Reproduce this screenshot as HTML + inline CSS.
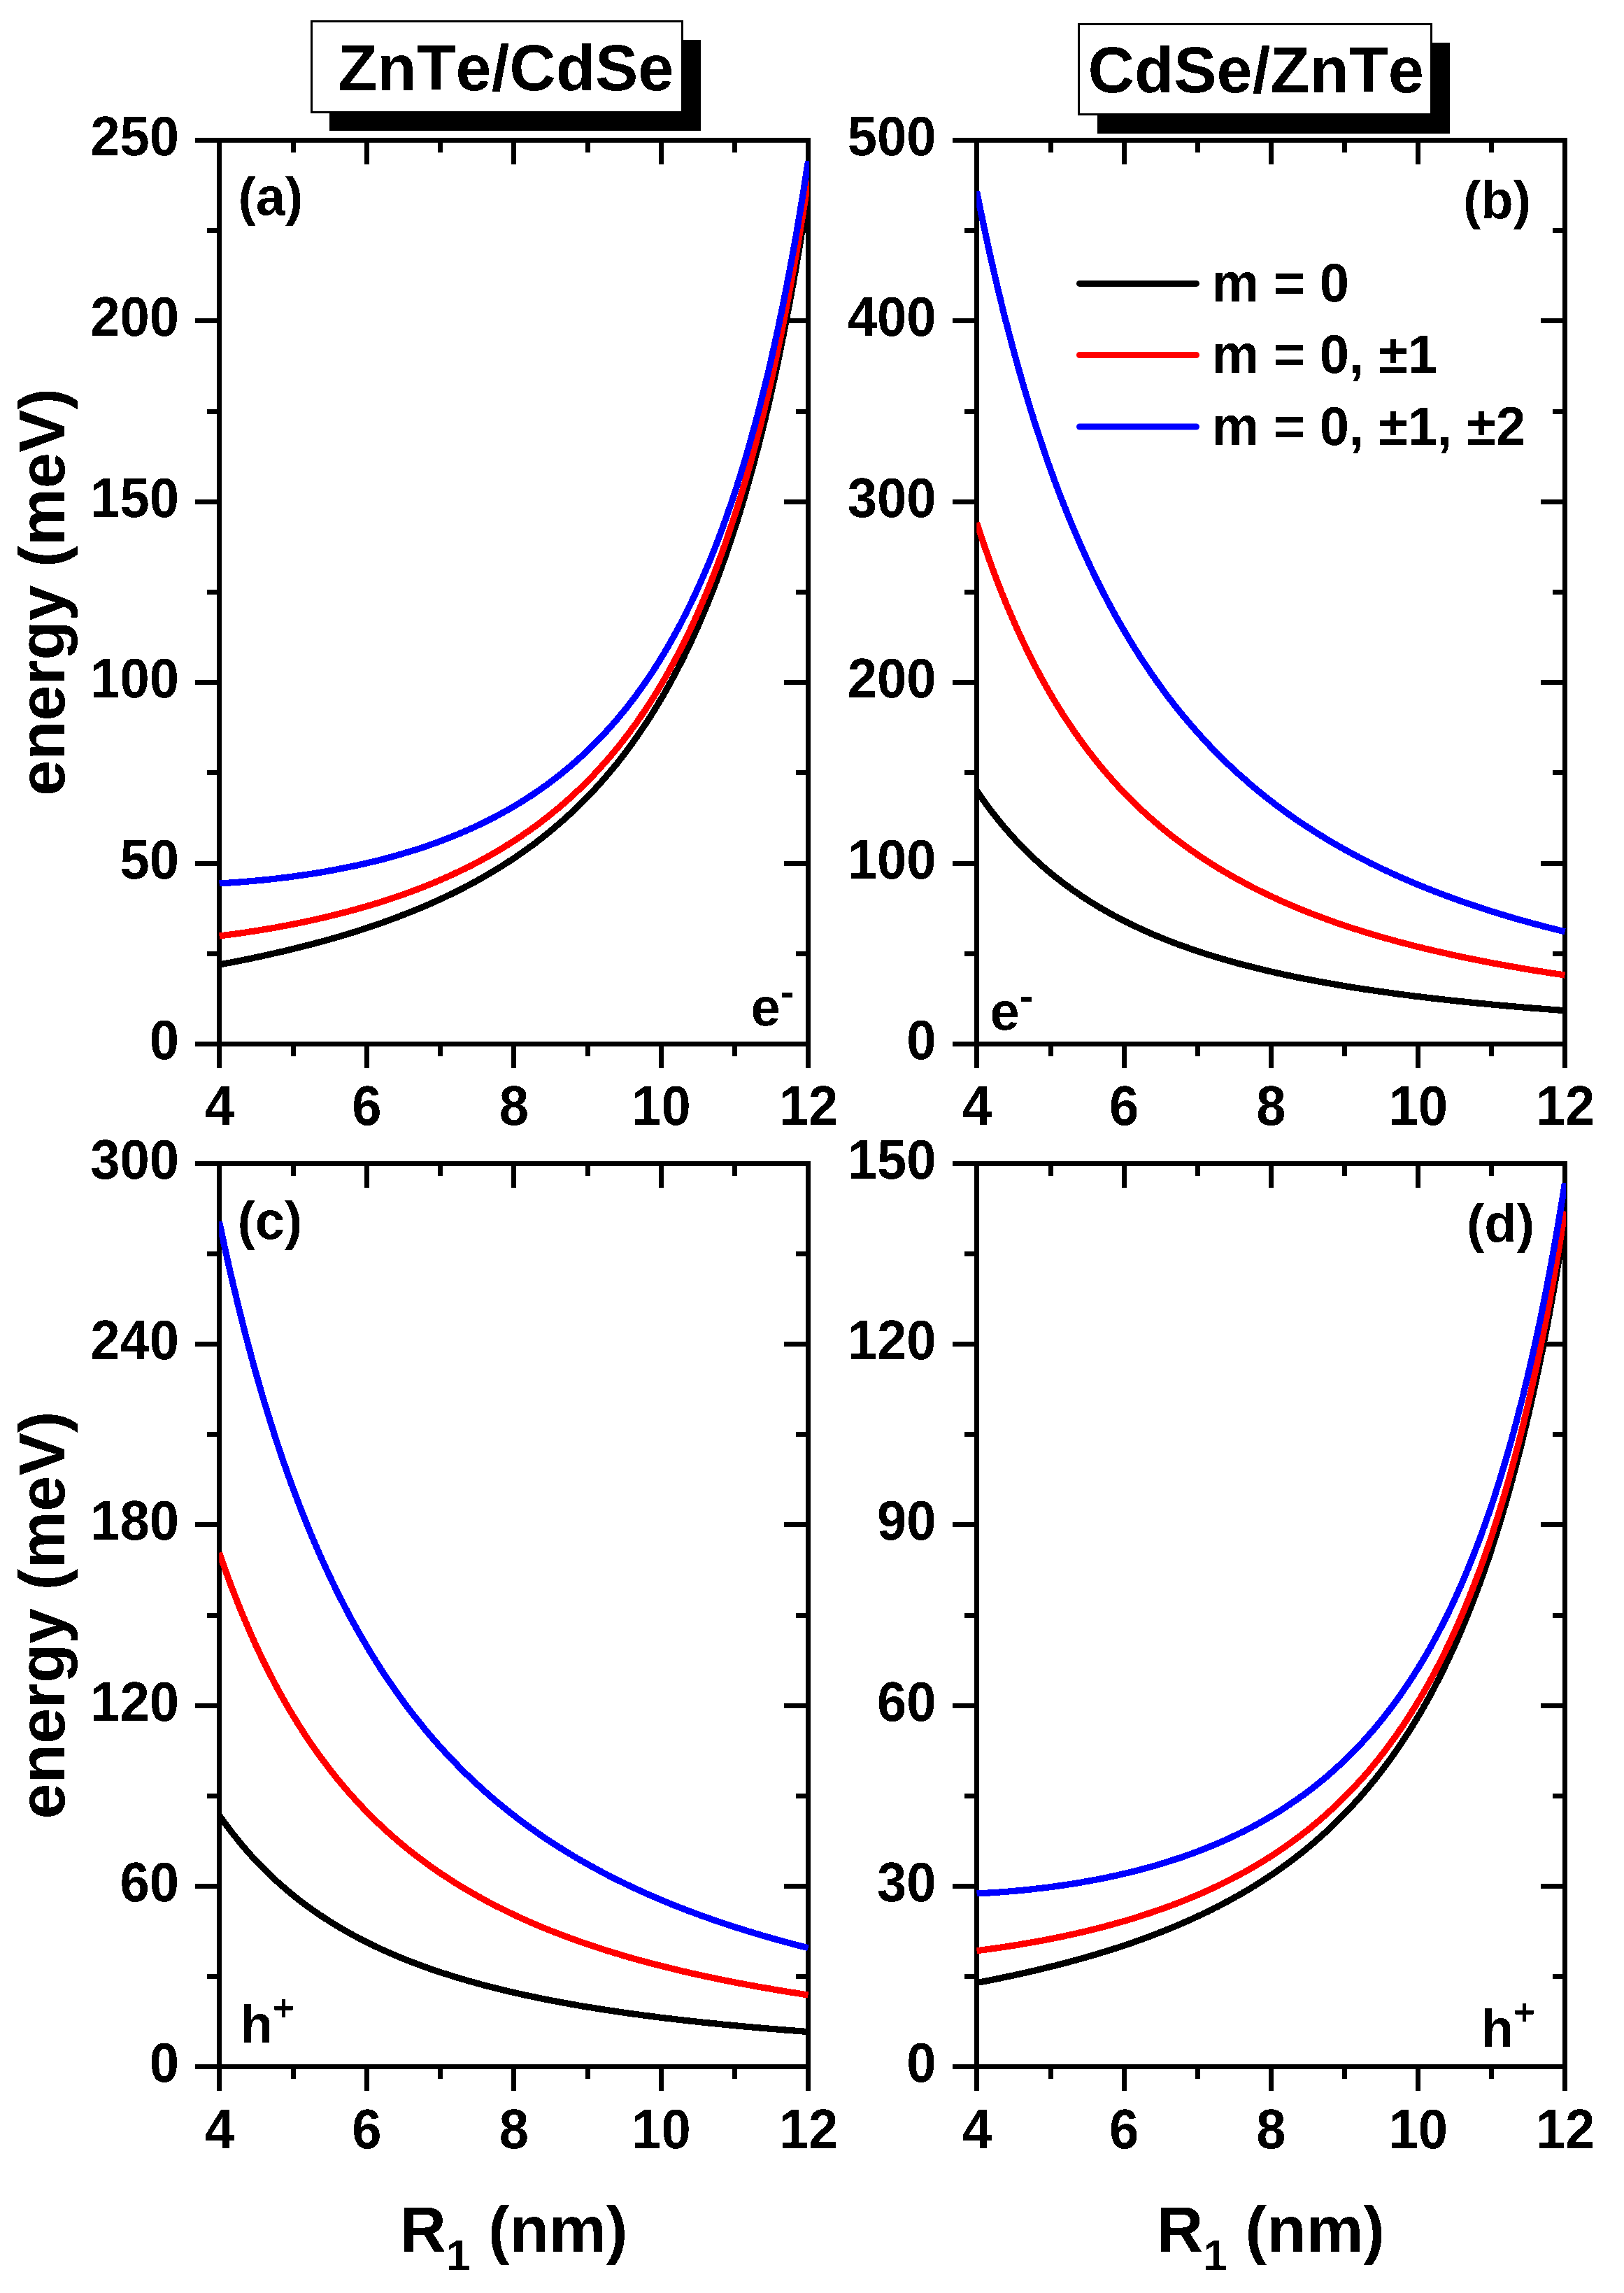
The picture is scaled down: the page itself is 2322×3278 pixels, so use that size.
<!DOCTYPE html>
<html lang="en"><head><meta charset="utf-8"><title>Energy vs R1 for ZnTe/CdSe and CdSe/ZnTe</title>
<style>html,body{margin:0;padding:0;background:#fff}svg{display:block}text{font-family:"Liberation Sans",Arial,Helvetica,sans-serif;font-weight:bold;fill:#000;font-kerning:none;font-variant-ligatures:none;filter:url(#bin)}</style>
</head><body>
<svg width="2322" height="3278" viewBox="0 0 2322 3278">
<rect x="0" y="0" width="2322" height="3278" fill="#fff" />
<defs><filter id="bin" x="-5%" y="-5%" width="110%" height="110%" color-interpolation-filters="sRGB"><feComponentTransfer><feFuncA type="discrete" tableValues="0 1"/></feComponentTransfer></filter></defs>
<g shape-rendering="crispEdges">
<rect x="471" y="57" width="531" height="130" fill="#000" />
<rect x="445.5" y="30.5" width="530" height="130" fill="#fff" stroke="#000" stroke-width="3"/>
</g>
<text x="483" y="129" font-size="92" text-anchor="start" >ZnTe/CdSe</text>
<g shape-rendering="crispEdges">
<rect x="1569" y="61" width="504" height="130" fill="#000" />
<rect x="1542.5" y="34.5" width="504" height="129" fill="#fff" stroke="#000" stroke-width="3"/>
</g>
<text x="1555.5" y="132" font-size="92" text-anchor="start" >CdSe/ZnTe</text>
<g shape-rendering="crispEdges">
<rect x="310" y="197" width="849" height="7" fill="#000" />
<rect x="310" y="1489" width="849" height="7" fill="#000" />
<rect x="310" y="197" width="7" height="1299" fill="#000" />
<rect x="1152" y="197" width="7" height="1299" fill="#000" />
<rect x="310" y="1496" width="7" height="31" fill="#000" />
<rect x="310" y="204" width="7" height="31" fill="#000" />
<rect x="416" y="1496" width="7" height="14" fill="#000" />
<rect x="416" y="204" width="7" height="14" fill="#000" />
<rect x="521" y="1496" width="7" height="31" fill="#000" />
<rect x="521" y="204" width="7" height="31" fill="#000" />
<rect x="626" y="1496" width="7" height="14" fill="#000" />
<rect x="626" y="204" width="7" height="14" fill="#000" />
<rect x="731" y="1496" width="7" height="31" fill="#000" />
<rect x="731" y="204" width="7" height="31" fill="#000" />
<rect x="837" y="1496" width="7" height="14" fill="#000" />
<rect x="837" y="204" width="7" height="14" fill="#000" />
<rect x="942" y="1496" width="7" height="31" fill="#000" />
<rect x="942" y="204" width="7" height="31" fill="#000" />
<rect x="1047" y="1496" width="7" height="14" fill="#000" />
<rect x="1047" y="204" width="7" height="14" fill="#000" />
<rect x="1152" y="1496" width="7" height="31" fill="#000" />
<rect x="1152" y="204" width="7" height="31" fill="#000" />
<rect x="279" y="1489" width="31" height="7" fill="#000" />
<rect x="1121" y="1489" width="31" height="7" fill="#000" />
<rect x="296" y="1360" width="14" height="7" fill="#000" />
<rect x="1138" y="1360" width="14" height="7" fill="#000" />
<rect x="279" y="1231" width="31" height="7" fill="#000" />
<rect x="1121" y="1231" width="31" height="7" fill="#000" />
<rect x="296" y="1101" width="14" height="7" fill="#000" />
<rect x="1138" y="1101" width="14" height="7" fill="#000" />
<rect x="279" y="972" width="31" height="7" fill="#000" />
<rect x="1121" y="972" width="31" height="7" fill="#000" />
<rect x="296" y="843" width="14" height="7" fill="#000" />
<rect x="1138" y="843" width="14" height="7" fill="#000" />
<rect x="279" y="714" width="31" height="7" fill="#000" />
<rect x="1121" y="714" width="31" height="7" fill="#000" />
<rect x="296" y="585" width="14" height="7" fill="#000" />
<rect x="1138" y="585" width="14" height="7" fill="#000" />
<rect x="279" y="455" width="31" height="7" fill="#000" />
<rect x="1121" y="455" width="31" height="7" fill="#000" />
<rect x="296" y="326" width="14" height="7" fill="#000" />
<rect x="1138" y="326" width="14" height="7" fill="#000" />
<rect x="279" y="197" width="31" height="7" fill="#000" />
<rect x="1121" y="197" width="31" height="7" fill="#000" />
</g>
<g shape-rendering="crispEdges">
<rect x="1393" y="197" width="848" height="7" fill="#000" />
<rect x="1393" y="1489" width="848" height="7" fill="#000" />
<rect x="1393" y="197" width="7" height="1299" fill="#000" />
<rect x="2234" y="197" width="7" height="1299" fill="#000" />
<rect x="1393" y="1496" width="7" height="31" fill="#000" />
<rect x="1393" y="204" width="7" height="31" fill="#000" />
<rect x="1499" y="1496" width="7" height="14" fill="#000" />
<rect x="1499" y="204" width="7" height="14" fill="#000" />
<rect x="1604" y="1496" width="7" height="31" fill="#000" />
<rect x="1604" y="204" width="7" height="31" fill="#000" />
<rect x="1709" y="1496" width="7" height="14" fill="#000" />
<rect x="1709" y="204" width="7" height="14" fill="#000" />
<rect x="1814" y="1496" width="7" height="31" fill="#000" />
<rect x="1814" y="204" width="7" height="31" fill="#000" />
<rect x="1919" y="1496" width="7" height="14" fill="#000" />
<rect x="1919" y="204" width="7" height="14" fill="#000" />
<rect x="2024" y="1496" width="7" height="31" fill="#000" />
<rect x="2024" y="204" width="7" height="31" fill="#000" />
<rect x="2129" y="1496" width="7" height="14" fill="#000" />
<rect x="2129" y="204" width="7" height="14" fill="#000" />
<rect x="2234" y="1496" width="7" height="31" fill="#000" />
<rect x="2234" y="204" width="7" height="31" fill="#000" />
<rect x="1362" y="1489" width="31" height="7" fill="#000" />
<rect x="2203" y="1489" width="31" height="7" fill="#000" />
<rect x="1379" y="1360" width="14" height="7" fill="#000" />
<rect x="2220" y="1360" width="14" height="7" fill="#000" />
<rect x="1362" y="1231" width="31" height="7" fill="#000" />
<rect x="2203" y="1231" width="31" height="7" fill="#000" />
<rect x="1379" y="1101" width="14" height="7" fill="#000" />
<rect x="2220" y="1101" width="14" height="7" fill="#000" />
<rect x="1362" y="972" width="31" height="7" fill="#000" />
<rect x="2203" y="972" width="31" height="7" fill="#000" />
<rect x="1379" y="843" width="14" height="7" fill="#000" />
<rect x="2220" y="843" width="14" height="7" fill="#000" />
<rect x="1362" y="714" width="31" height="7" fill="#000" />
<rect x="2203" y="714" width="31" height="7" fill="#000" />
<rect x="1379" y="585" width="14" height="7" fill="#000" />
<rect x="2220" y="585" width="14" height="7" fill="#000" />
<rect x="1362" y="455" width="31" height="7" fill="#000" />
<rect x="2203" y="455" width="31" height="7" fill="#000" />
<rect x="1379" y="326" width="14" height="7" fill="#000" />
<rect x="2220" y="326" width="14" height="7" fill="#000" />
<rect x="1362" y="197" width="31" height="7" fill="#000" />
<rect x="2203" y="197" width="31" height="7" fill="#000" />
</g>
<g shape-rendering="crispEdges">
<rect x="310" y="1660" width="849" height="7" fill="#000" />
<rect x="310" y="2951" width="849" height="7" fill="#000" />
<rect x="310" y="1660" width="7" height="1298" fill="#000" />
<rect x="1152" y="1660" width="7" height="1298" fill="#000" />
<rect x="310" y="2958" width="7" height="31" fill="#000" />
<rect x="310" y="1667" width="7" height="31" fill="#000" />
<rect x="416" y="2958" width="7" height="14" fill="#000" />
<rect x="416" y="1667" width="7" height="14" fill="#000" />
<rect x="521" y="2958" width="7" height="31" fill="#000" />
<rect x="521" y="1667" width="7" height="31" fill="#000" />
<rect x="626" y="2958" width="7" height="14" fill="#000" />
<rect x="626" y="1667" width="7" height="14" fill="#000" />
<rect x="731" y="2958" width="7" height="31" fill="#000" />
<rect x="731" y="1667" width="7" height="31" fill="#000" />
<rect x="837" y="2958" width="7" height="14" fill="#000" />
<rect x="837" y="1667" width="7" height="14" fill="#000" />
<rect x="942" y="2958" width="7" height="31" fill="#000" />
<rect x="942" y="1667" width="7" height="31" fill="#000" />
<rect x="1047" y="2958" width="7" height="14" fill="#000" />
<rect x="1047" y="1667" width="7" height="14" fill="#000" />
<rect x="1152" y="2958" width="7" height="31" fill="#000" />
<rect x="1152" y="1667" width="7" height="31" fill="#000" />
<rect x="279" y="2951" width="31" height="7" fill="#000" />
<rect x="1121" y="2951" width="31" height="7" fill="#000" />
<rect x="296" y="2822" width="14" height="7" fill="#000" />
<rect x="1138" y="2822" width="14" height="7" fill="#000" />
<rect x="279" y="2693" width="31" height="7" fill="#000" />
<rect x="1121" y="2693" width="31" height="7" fill="#000" />
<rect x="296" y="2564" width="14" height="7" fill="#000" />
<rect x="1138" y="2564" width="14" height="7" fill="#000" />
<rect x="279" y="2435" width="31" height="7" fill="#000" />
<rect x="1121" y="2435" width="31" height="7" fill="#000" />
<rect x="296" y="2306" width="14" height="7" fill="#000" />
<rect x="1138" y="2306" width="14" height="7" fill="#000" />
<rect x="279" y="2176" width="31" height="7" fill="#000" />
<rect x="1121" y="2176" width="31" height="7" fill="#000" />
<rect x="296" y="2047" width="14" height="7" fill="#000" />
<rect x="1138" y="2047" width="14" height="7" fill="#000" />
<rect x="279" y="1918" width="31" height="7" fill="#000" />
<rect x="1121" y="1918" width="31" height="7" fill="#000" />
<rect x="296" y="1789" width="14" height="7" fill="#000" />
<rect x="1138" y="1789" width="14" height="7" fill="#000" />
<rect x="279" y="1660" width="31" height="7" fill="#000" />
<rect x="1121" y="1660" width="31" height="7" fill="#000" />
</g>
<g shape-rendering="crispEdges">
<rect x="1393" y="1660" width="848" height="7" fill="#000" />
<rect x="1393" y="2951" width="848" height="7" fill="#000" />
<rect x="1393" y="1660" width="7" height="1298" fill="#000" />
<rect x="2234" y="1660" width="7" height="1298" fill="#000" />
<rect x="1393" y="2958" width="7" height="31" fill="#000" />
<rect x="1393" y="1667" width="7" height="31" fill="#000" />
<rect x="1499" y="2958" width="7" height="14" fill="#000" />
<rect x="1499" y="1667" width="7" height="14" fill="#000" />
<rect x="1604" y="2958" width="7" height="31" fill="#000" />
<rect x="1604" y="1667" width="7" height="31" fill="#000" />
<rect x="1709" y="2958" width="7" height="14" fill="#000" />
<rect x="1709" y="1667" width="7" height="14" fill="#000" />
<rect x="1814" y="2958" width="7" height="31" fill="#000" />
<rect x="1814" y="1667" width="7" height="31" fill="#000" />
<rect x="1919" y="2958" width="7" height="14" fill="#000" />
<rect x="1919" y="1667" width="7" height="14" fill="#000" />
<rect x="2024" y="2958" width="7" height="31" fill="#000" />
<rect x="2024" y="1667" width="7" height="31" fill="#000" />
<rect x="2129" y="2958" width="7" height="14" fill="#000" />
<rect x="2129" y="1667" width="7" height="14" fill="#000" />
<rect x="2234" y="2958" width="7" height="31" fill="#000" />
<rect x="2234" y="1667" width="7" height="31" fill="#000" />
<rect x="1362" y="2951" width="31" height="7" fill="#000" />
<rect x="2203" y="2951" width="31" height="7" fill="#000" />
<rect x="1379" y="2822" width="14" height="7" fill="#000" />
<rect x="2220" y="2822" width="14" height="7" fill="#000" />
<rect x="1362" y="2693" width="31" height="7" fill="#000" />
<rect x="2203" y="2693" width="31" height="7" fill="#000" />
<rect x="1379" y="2564" width="14" height="7" fill="#000" />
<rect x="2220" y="2564" width="14" height="7" fill="#000" />
<rect x="1362" y="2435" width="31" height="7" fill="#000" />
<rect x="2203" y="2435" width="31" height="7" fill="#000" />
<rect x="1379" y="2306" width="14" height="7" fill="#000" />
<rect x="2220" y="2306" width="14" height="7" fill="#000" />
<rect x="1362" y="2176" width="31" height="7" fill="#000" />
<rect x="2203" y="2176" width="31" height="7" fill="#000" />
<rect x="1379" y="2047" width="14" height="7" fill="#000" />
<rect x="2220" y="2047" width="14" height="7" fill="#000" />
<rect x="1362" y="1918" width="31" height="7" fill="#000" />
<rect x="2203" y="1918" width="31" height="7" fill="#000" />
<rect x="1379" y="1789" width="14" height="7" fill="#000" />
<rect x="2220" y="1789" width="14" height="7" fill="#000" />
<rect x="1362" y="1660" width="31" height="7" fill="#000" />
<rect x="2203" y="1660" width="31" height="7" fill="#000" />
</g>
<text transform="translate(314,1608) scale(1,1.04)" font-size="76" text-anchor="middle">4</text>
<text transform="translate(524.5,1608) scale(1,1.04)" font-size="76" text-anchor="middle">6</text>
<text transform="translate(735,1608) scale(1,1.04)" font-size="76" text-anchor="middle">8</text>
<text transform="translate(945.5,1608) scale(1,1.04)" font-size="76" text-anchor="middle">10</text>
<text transform="translate(1156,1608) scale(1,1.04)" font-size="76" text-anchor="middle">12</text>
<text transform="translate(256,1514) scale(1,1.04)" font-size="76" text-anchor="end">0</text>
<text transform="translate(256,1255.6) scale(1,1.04)" font-size="76" text-anchor="end">50</text>
<text transform="translate(256,997.2) scale(1,1.04)" font-size="76" text-anchor="end">100</text>
<text transform="translate(256,738.8) scale(1,1.04)" font-size="76" text-anchor="end">150</text>
<text transform="translate(256,480.4) scale(1,1.04)" font-size="76" text-anchor="end">200</text>
<text transform="translate(256,222) scale(1,1.04)" font-size="76" text-anchor="end">250</text>
<text transform="translate(1397,1608) scale(1,1.04)" font-size="76" text-anchor="middle">4</text>
<text transform="translate(1607.25,1608) scale(1,1.04)" font-size="76" text-anchor="middle">6</text>
<text transform="translate(1817.5,1608) scale(1,1.04)" font-size="76" text-anchor="middle">8</text>
<text transform="translate(2027.75,1608) scale(1,1.04)" font-size="76" text-anchor="middle">10</text>
<text transform="translate(2238,1608) scale(1,1.04)" font-size="76" text-anchor="middle">12</text>
<text transform="translate(1338.5,1514) scale(1,1.04)" font-size="76" text-anchor="end">0</text>
<text transform="translate(1338.5,1255.6) scale(1,1.04)" font-size="76" text-anchor="end">100</text>
<text transform="translate(1338.5,997.2) scale(1,1.04)" font-size="76" text-anchor="end">200</text>
<text transform="translate(1338.5,738.8) scale(1,1.04)" font-size="76" text-anchor="end">300</text>
<text transform="translate(1338.5,480.4) scale(1,1.04)" font-size="76" text-anchor="end">400</text>
<text transform="translate(1338.5,222) scale(1,1.04)" font-size="76" text-anchor="end">500</text>
<text transform="translate(314,3071) scale(1,1.04)" font-size="76" text-anchor="middle">4</text>
<text transform="translate(524.5,3071) scale(1,1.04)" font-size="76" text-anchor="middle">6</text>
<text transform="translate(735,3071) scale(1,1.04)" font-size="76" text-anchor="middle">8</text>
<text transform="translate(945.5,3071) scale(1,1.04)" font-size="76" text-anchor="middle">10</text>
<text transform="translate(1156,3071) scale(1,1.04)" font-size="76" text-anchor="middle">12</text>
<text transform="translate(256,2976) scale(1,1.04)" font-size="76" text-anchor="end">0</text>
<text transform="translate(256,2717.8) scale(1,1.04)" font-size="76" text-anchor="end">60</text>
<text transform="translate(256,2459.6) scale(1,1.04)" font-size="76" text-anchor="end">120</text>
<text transform="translate(256,2201.4) scale(1,1.04)" font-size="76" text-anchor="end">180</text>
<text transform="translate(256,1943.2) scale(1,1.04)" font-size="76" text-anchor="end">240</text>
<text transform="translate(256,1685) scale(1,1.04)" font-size="76" text-anchor="end">300</text>
<text transform="translate(1397,3071) scale(1,1.04)" font-size="76" text-anchor="middle">4</text>
<text transform="translate(1607.25,3071) scale(1,1.04)" font-size="76" text-anchor="middle">6</text>
<text transform="translate(1817.5,3071) scale(1,1.04)" font-size="76" text-anchor="middle">8</text>
<text transform="translate(2027.75,3071) scale(1,1.04)" font-size="76" text-anchor="middle">10</text>
<text transform="translate(2238,3071) scale(1,1.04)" font-size="76" text-anchor="middle">12</text>
<text transform="translate(1338.5,2976) scale(1,1.04)" font-size="76" text-anchor="end">0</text>
<text transform="translate(1338.5,2717.8) scale(1,1.04)" font-size="76" text-anchor="end">30</text>
<text transform="translate(1338.5,2459.6) scale(1,1.04)" font-size="76" text-anchor="end">60</text>
<text transform="translate(1338.5,2201.4) scale(1,1.04)" font-size="76" text-anchor="end">90</text>
<text transform="translate(1338.5,1943.2) scale(1,1.04)" font-size="76" text-anchor="end">120</text>
<text transform="translate(1338.5,1685) scale(1,1.04)" font-size="76" text-anchor="end">150</text>
<text transform="translate(92,846.5) rotate(-90)" font-size="92" text-anchor="middle">energy (meV)</text>
<text transform="translate(92,2309) rotate(-90)" font-size="92" text-anchor="middle">energy (meV)</text>
<text x="734.5" y="3219" font-size="92" text-anchor="middle">R<tspan font-size="62" dy="26">1</tspan><tspan dy="-26"> (nm)</tspan></text>
<text x="1817" y="3219" font-size="92" text-anchor="middle">R<tspan font-size="62" dy="26">1</tspan><tspan dy="-26"> (nm)</tspan></text>
<text x="340.5" y="307" font-size="76" text-anchor="start" >(a)</text>
<text x="2189" y="311.5" font-size="76" text-anchor="end" >(b)</text>
<text x="339.5" y="1770.5" font-size="76" text-anchor="start" >(c)</text>
<text x="2194" y="1775" font-size="76" text-anchor="end" >(d)</text>
<text x="1073.5" y="1466" font-size="76">e<tspan font-size="60" dy="-28">-</tspan></text>
<text x="1415.5" y="1472" font-size="76">e<tspan font-size="60" dy="-28">-</tspan></text>
<text x="343.8" y="2920" font-size="76">h<tspan font-size="52" dy="-32">+</tspan></text>
<text x="2117.8" y="2926" font-size="76">h<tspan font-size="52" dy="-32">+</tspan></text>
<g stroke-width="9" stroke-linecap="round" fill="none">
<line x1="1543.5" y1="405.4" x2="1710.5" y2="405.4" stroke="#000000"/>
<line x1="1543.5" y1="507.5" x2="1710.5" y2="507.5" stroke="#ff0000"/>
<line x1="1543.5" y1="610" x2="1710.5" y2="610" stroke="#0000ff"/>
</g>
<text transform="translate(1732.5,431) scale(1,1.03)" font-size="76">m = 0</text>
<text transform="translate(1732.5,533.4) scale(1,1.03)" font-size="76">m = 0, ±1</text>
<text transform="translate(1732.5,635.8) scale(1,1.03)" font-size="76">m = 0, ±1, ±2</text>
<clipPath id="clipa"><rect x="313.3" y="190.5" width="843.7" height="1312"/></clipPath>
<g clip-path="url(#clipa)" fill="none" stroke-width="9.2" stroke-linejoin="round" stroke-linecap="butt" shape-rendering="crispEdges">
<path d="M313.5,1379.1 L317.0,1378.4 L320.5,1377.8 L324.0,1377.1 L327.5,1376.4 L331.0,1375.8 L334.6,1375.1 L338.1,1374.4 L341.6,1373.7 L345.1,1373.0 L348.6,1372.3 L352.1,1371.6 L355.6,1370.8 L359.1,1370.1 L362.6,1369.4 L366.1,1368.6 L369.6,1367.9 L373.1,1367.1 L376.6,1366.4 L380.2,1365.6 L383.7,1364.8 L387.2,1364.0 L390.7,1363.2 L394.2,1362.4 L397.7,1361.6 L401.2,1360.8 L404.7,1360.0 L408.2,1359.2 L411.7,1358.3 L415.2,1357.5 L418.8,1356.6 L422.3,1355.8 L425.8,1354.9 L429.3,1354.0 L432.8,1353.1 L436.3,1352.2 L439.8,1351.3 L443.3,1350.4 L446.8,1349.5 L450.3,1348.6 L453.8,1347.6 L457.3,1346.7 L460.9,1345.7 L464.4,1344.8 L467.9,1343.8 L471.4,1342.8 L474.9,1341.8 L478.4,1340.8 L481.9,1339.8 L485.4,1338.8 L488.9,1337.7 L492.4,1336.7 L495.9,1335.6 L499.4,1334.5 L502.9,1333.5 L506.5,1332.4 L510.0,1331.3 L513.5,1330.1 L517.0,1329.0 L520.5,1327.9 L524.0,1326.7 L527.5,1325.6 L531.0,1324.4 L534.5,1323.2 L538.0,1322.0 L541.5,1320.8 L545.0,1319.6 L548.6,1318.3 L552.1,1317.1 L555.6,1315.8 L559.1,1314.5 L562.6,1313.2 L566.1,1311.9 L569.6,1310.6 L573.1,1309.2 L576.6,1307.9 L580.1,1306.5 L583.6,1305.1 L587.1,1303.7 L590.7,1302.3 L594.2,1300.9 L597.7,1299.4 L601.2,1298.0 L604.7,1296.5 L608.2,1295.0 L611.7,1293.5 L615.2,1292.0 L618.7,1290.4 L622.2,1288.8 L625.7,1287.2 L629.2,1285.6 L632.8,1284.0 L636.3,1282.4 L639.8,1280.7 L643.3,1279.0 L646.8,1277.3 L650.3,1275.6 L653.8,1273.9 L657.3,1272.1 L660.8,1270.3 L664.3,1268.5 L667.8,1266.7 L671.4,1264.8 L674.9,1262.9 L678.4,1261.0 L681.9,1259.1 L685.4,1257.1 L688.9,1255.2 L692.4,1253.2 L695.9,1251.1 L699.4,1249.1 L702.9,1247.0 L706.4,1244.9 L709.9,1242.8 L713.5,1240.6 L717.0,1238.4 L720.5,1236.2 L724.0,1234.0 L727.5,1231.7 L731.0,1229.4 L734.5,1227.1 L738.0,1224.7 L741.5,1222.3 L745.0,1219.9 L748.5,1217.4 L752.0,1214.9 L755.5,1212.4 L759.1,1209.8 L762.6,1207.2 L766.1,1204.6 L769.6,1201.9 L773.1,1199.2 L776.6,1196.4 L780.1,1193.6 L783.6,1190.8 L787.1,1187.9 L790.6,1185.0 L794.1,1182.0 L797.6,1179.0 L801.2,1176.0 L804.7,1172.9 L808.2,1169.8 L811.7,1166.6 L815.2,1163.4 L818.7,1160.1 L822.2,1156.8 L825.7,1153.4 L829.2,1150.0 L832.7,1146.5 L836.2,1143.0 L839.8,1139.4 L843.3,1135.7 L846.8,1132.0 L850.3,1128.3 L853.8,1124.5 L857.3,1120.6 L860.8,1116.7 L864.3,1112.7 L867.8,1108.6 L871.3,1104.5 L874.8,1100.3 L878.3,1096.0 L881.9,1091.7 L885.4,1087.3 L888.9,1082.8 L892.4,1078.2 L895.9,1073.6 L899.4,1068.9 L902.9,1064.1 L906.4,1059.2 L909.9,1054.2 L913.4,1049.2 L916.9,1044.1 L920.4,1038.8 L924.0,1033.5 L927.5,1028.1 L931.0,1022.6 L934.5,1017.0 L938.0,1011.3 L941.5,1005.5 L945.0,999.6 L948.5,993.6 L952.0,987.4 L955.5,981.2 L959.0,974.8 L962.5,968.3 L966.0,961.7 L969.6,955.0 L973.1,948.1 L976.6,941.1 L980.1,934.0 L983.6,926.7 L987.1,919.3 L990.6,911.7 L994.1,904.0 L997.6,896.2 L1001.1,888.1 L1004.6,879.9 L1008.1,871.6 L1011.7,863.0 L1015.2,854.3 L1018.7,845.4 L1022.2,836.4 L1025.7,827.1 L1029.2,817.6 L1032.7,807.9 L1036.2,798.0 L1039.7,787.9 L1043.2,777.6 L1046.7,767.1 L1050.2,756.3 L1053.8,745.2 L1057.3,734.0 L1060.8,722.4 L1064.3,710.6 L1067.8,698.5 L1071.3,686.2 L1074.8,673.5 L1078.3,660.5 L1081.8,647.3 L1085.3,633.7 L1088.8,619.8 L1092.3,605.5 L1095.9,590.9 L1099.4,575.9 L1102.9,560.5 L1106.4,544.8 L1109.9,528.6 L1113.4,512.1 L1116.9,495.1 L1120.4,477.6 L1123.9,459.7 L1127.4,441.3 L1130.9,422.4 L1134.5,403.0 L1138.0,383.1 L1141.5,362.6 L1145.0,341.6 L1148.5,319.9 L1152.0,297.6 L1155.5,274.7" stroke="#000000"/>
<path d="M313.5,1338.0 L317.0,1337.6 L320.5,1337.1 L324.0,1336.7 L327.5,1336.2 L331.0,1335.8 L334.6,1335.3 L338.1,1334.8 L341.6,1334.3 L345.1,1333.8 L348.6,1333.3 L352.1,1332.8 L355.6,1332.2 L359.1,1331.7 L362.6,1331.2 L366.1,1330.6 L369.6,1330.0 L373.1,1329.5 L376.6,1328.9 L380.2,1328.3 L383.7,1327.7 L387.2,1327.1 L390.7,1326.5 L394.2,1325.9 L397.7,1325.2 L401.2,1324.6 L404.7,1323.9 L408.2,1323.3 L411.7,1322.6 L415.2,1321.9 L418.8,1321.2 L422.3,1320.5 L425.8,1319.8 L429.3,1319.1 L432.8,1318.4 L436.3,1317.7 L439.8,1316.9 L443.3,1316.2 L446.8,1315.4 L450.3,1314.6 L453.8,1313.8 L457.3,1313.0 L460.9,1312.2 L464.4,1311.4 L467.9,1310.6 L471.4,1309.7 L474.9,1308.9 L478.4,1308.0 L481.9,1307.1 L485.4,1306.2 L488.9,1305.4 L492.4,1304.4 L495.9,1303.5 L499.4,1302.6 L502.9,1301.6 L506.5,1300.7 L510.0,1299.7 L513.5,1298.7 L517.0,1297.7 L520.5,1296.7 L524.0,1295.7 L527.5,1294.7 L531.0,1293.6 L534.5,1292.6 L538.0,1291.5 L541.5,1290.4 L545.0,1289.3 L548.6,1288.2 L552.1,1287.0 L555.6,1285.9 L559.1,1284.7 L562.6,1283.6 L566.1,1282.4 L569.6,1281.2 L573.1,1279.9 L576.6,1278.7 L580.1,1277.5 L583.6,1276.2 L587.1,1274.9 L590.7,1273.6 L594.2,1272.3 L597.7,1270.9 L601.2,1269.6 L604.7,1268.2 L608.2,1266.8 L611.7,1265.4 L615.2,1264.0 L618.7,1262.6 L622.2,1261.1 L625.7,1259.6 L629.2,1258.1 L632.8,1256.6 L636.3,1255.0 L639.8,1253.5 L643.3,1251.9 L646.8,1250.3 L650.3,1248.7 L653.8,1247.0 L657.3,1245.4 L660.8,1243.7 L664.3,1242.0 L667.8,1240.2 L671.4,1238.5 L674.9,1236.7 L678.4,1234.9 L681.9,1233.1 L685.4,1231.2 L688.9,1229.3 L692.4,1227.4 L695.9,1225.5 L699.4,1223.5 L702.9,1221.5 L706.4,1219.5 L709.9,1217.5 L713.5,1215.4 L717.0,1213.3 L720.5,1211.2 L724.0,1209.0 L727.5,1206.8 L731.0,1204.6 L734.5,1202.4 L738.0,1200.1 L741.5,1197.8 L745.0,1195.4 L748.5,1193.0 L752.0,1190.6 L755.5,1188.2 L759.1,1185.7 L762.6,1183.2 L766.1,1180.6 L769.6,1178.0 L773.1,1175.4 L776.6,1172.7 L780.1,1170.0 L783.6,1167.2 L787.1,1164.5 L790.6,1161.6 L794.1,1158.7 L797.6,1155.8 L801.2,1152.9 L804.7,1149.8 L808.2,1146.8 L811.7,1143.7 L815.2,1140.5 L818.7,1137.3 L822.2,1134.1 L825.7,1130.8 L829.2,1127.4 L832.7,1124.0 L836.2,1120.6 L839.8,1117.0 L843.3,1113.5 L846.8,1109.8 L850.3,1106.2 L853.8,1102.4 L857.3,1098.6 L860.8,1094.7 L864.3,1090.8 L867.8,1086.8 L871.3,1082.8 L874.8,1078.6 L878.3,1074.4 L881.9,1070.2 L885.4,1065.8 L888.9,1061.4 L892.4,1056.9 L895.9,1052.3 L899.4,1047.7 L902.9,1043.0 L906.4,1038.2 L909.9,1033.3 L913.4,1028.3 L916.9,1023.2 L920.4,1018.0 L924.0,1012.8 L927.5,1007.5 L931.0,1002.0 L934.5,996.5 L938.0,990.8 L941.5,985.1 L945.0,979.2 L948.5,973.3 L952.0,967.2 L955.5,961.0 L959.0,954.7 L962.5,948.3 L966.0,941.7 L969.6,935.0 L973.1,928.2 L976.6,921.3 L980.1,914.2 L983.6,907.0 L987.1,899.6 L990.6,892.1 L994.1,884.5 L997.6,876.7 L1001.1,868.7 L1004.6,860.6 L1008.1,852.3 L1011.7,843.8 L1015.2,835.1 L1018.7,826.3 L1022.2,817.3 L1025.7,808.0 L1029.2,798.6 L1032.7,789.0 L1036.2,779.2 L1039.7,769.1 L1043.2,758.8 L1046.7,748.3 L1050.2,737.6 L1053.8,726.6 L1057.3,715.4 L1060.8,703.9 L1064.3,692.1 L1067.8,680.1 L1071.3,667.8 L1074.8,655.2 L1078.3,642.3 L1081.8,629.1 L1085.3,615.5 L1088.8,601.6 L1092.3,587.4 L1095.9,572.9 L1099.4,557.9 L1102.9,542.6 L1106.4,526.9 L1109.9,510.8 L1113.4,494.3 L1116.9,477.3 L1120.4,459.9 L1123.9,442.1 L1127.4,423.7 L1130.9,404.9 L1134.5,385.5 L1138.0,365.7 L1141.5,345.2 L1145.0,324.2 L1148.5,302.6 L1152.0,280.4 L1155.5,257.5" stroke="#ff0000"/>
<path d="M313.5,1262.9 L317.0,1262.7 L320.5,1262.5 L324.0,1262.3 L327.5,1262.1 L331.0,1261.8 L334.6,1261.6 L338.1,1261.3 L341.6,1261.1 L345.1,1260.8 L348.6,1260.5 L352.1,1260.2 L355.6,1259.9 L359.1,1259.6 L362.6,1259.3 L366.1,1259.0 L369.6,1258.7 L373.1,1258.3 L376.6,1258.0 L380.2,1257.6 L383.7,1257.3 L387.2,1256.9 L390.7,1256.5 L394.2,1256.1 L397.7,1255.7 L401.2,1255.3 L404.7,1254.8 L408.2,1254.4 L411.7,1254.0 L415.2,1253.5 L418.8,1253.0 L422.3,1252.6 L425.8,1252.1 L429.3,1251.6 L432.8,1251.1 L436.3,1250.6 L439.8,1250.0 L443.3,1249.5 L446.8,1249.0 L450.3,1248.4 L453.8,1247.8 L457.3,1247.3 L460.9,1246.7 L464.4,1246.1 L467.9,1245.5 L471.4,1244.8 L474.9,1244.2 L478.4,1243.5 L481.9,1242.9 L485.4,1242.2 L488.9,1241.5 L492.4,1240.8 L495.9,1240.1 L499.4,1239.4 L502.9,1238.7 L506.5,1237.9 L510.0,1237.2 L513.5,1236.4 L517.0,1235.6 L520.5,1234.8 L524.0,1234.0 L527.5,1233.2 L531.0,1232.4 L534.5,1231.5 L538.0,1230.7 L541.5,1229.8 L545.0,1228.9 L548.6,1228.0 L552.1,1227.1 L555.6,1226.1 L559.1,1225.2 L562.6,1224.2 L566.1,1223.2 L569.6,1222.2 L573.1,1221.2 L576.6,1220.2 L580.1,1219.1 L583.6,1218.1 L587.1,1217.0 L590.7,1215.9 L594.2,1214.8 L597.7,1213.7 L601.2,1212.5 L604.7,1211.3 L608.2,1210.2 L611.7,1209.0 L615.2,1207.7 L618.7,1206.5 L622.2,1205.2 L625.7,1204.0 L629.2,1202.7 L632.8,1201.3 L636.3,1200.0 L639.8,1198.6 L643.3,1197.3 L646.8,1195.9 L650.3,1194.4 L653.8,1193.0 L657.3,1191.5 L660.8,1190.0 L664.3,1188.5 L667.8,1187.0 L671.4,1185.4 L674.9,1183.9 L678.4,1182.3 L681.9,1180.6 L685.4,1179.0 L688.9,1177.3 L692.4,1175.6 L695.9,1173.9 L699.4,1172.1 L702.9,1170.3 L706.4,1168.5 L709.9,1166.6 L713.5,1164.8 L717.0,1162.9 L720.5,1160.9 L724.0,1159.0 L727.5,1157.0 L731.0,1155.0 L734.5,1152.9 L738.0,1150.8 L741.5,1148.7 L745.0,1146.6 L748.5,1144.4 L752.0,1142.2 L755.5,1139.9 L759.1,1137.6 L762.6,1135.3 L766.1,1132.9 L769.6,1130.5 L773.1,1128.1 L776.6,1125.6 L780.1,1123.1 L783.6,1120.5 L787.1,1117.9 L790.6,1115.3 L794.1,1112.6 L797.6,1109.9 L801.2,1107.1 L804.7,1104.3 L808.2,1101.4 L811.7,1098.5 L815.2,1095.6 L818.7,1092.5 L822.2,1089.5 L825.7,1086.4 L829.2,1083.2 L832.7,1080.0 L836.2,1076.7 L839.8,1073.4 L843.3,1070.0 L846.8,1066.6 L850.3,1063.1 L853.8,1059.5 L857.3,1055.9 L860.8,1052.3 L864.3,1048.5 L867.8,1044.7 L871.3,1040.8 L874.8,1036.9 L878.3,1032.9 L881.9,1028.8 L885.4,1024.6 L888.9,1020.4 L892.4,1016.1 L895.9,1011.7 L899.4,1007.3 L902.9,1002.7 L906.4,998.1 L909.9,993.4 L913.4,988.6 L916.9,983.7 L920.4,978.8 L924.0,973.7 L927.5,968.5 L931.0,963.3 L934.5,957.9 L938.0,952.5 L941.5,946.9 L945.0,941.2 L948.5,935.5 L952.0,929.6 L955.5,923.6 L959.0,917.4 L962.5,911.2 L966.0,904.8 L969.6,898.3 L973.1,891.7 L976.6,885.0 L980.1,878.1 L983.6,871.0 L987.1,863.9 L990.6,856.5 L994.1,849.1 L997.6,841.4 L1001.1,833.7 L1004.6,825.7 L1008.1,817.6 L1011.7,809.3 L1015.2,800.8 L1018.7,792.1 L1022.2,783.3 L1025.7,774.3 L1029.2,765.0 L1032.7,755.6 L1036.2,745.9 L1039.7,736.1 L1043.2,726.0 L1046.7,715.7 L1050.2,705.1 L1053.8,694.3 L1057.3,683.2 L1060.8,671.9 L1064.3,660.4 L1067.8,648.5 L1071.3,636.4 L1074.8,623.9 L1078.3,611.2 L1081.8,598.2 L1085.3,584.8 L1088.8,571.1 L1092.3,557.1 L1095.9,542.7 L1099.4,527.9 L1102.9,512.8 L1106.4,497.3 L1109.9,481.4 L1113.4,465.0 L1116.9,448.2 L1120.4,431.0 L1123.9,413.3 L1127.4,395.2 L1130.9,376.5 L1134.5,357.3 L1138.0,337.6 L1141.5,317.4 L1145.0,296.5 L1148.5,275.1 L1152.0,253.0 L1155.5,230.3" stroke="#0000ff"/>
</g>
<clipPath id="clipb"><rect x="1396.3" y="190.5" width="842.7" height="1312"/></clipPath>
<g clip-path="url(#clipb)" fill="none" stroke-width="9.2" stroke-linejoin="round" stroke-linecap="butt" shape-rendering="crispEdges">
<path d="M1396.5,1130.2 L1400.0,1135.4 L1403.5,1140.4 L1407.0,1145.4 L1410.5,1150.2 L1414.0,1155.0 L1417.5,1159.6 L1421.0,1164.2 L1424.5,1168.6 L1428.0,1173.0 L1431.5,1177.3 L1435.0,1181.5 L1438.5,1185.6 L1442.1,1189.6 L1445.6,1193.6 L1449.1,1197.4 L1452.6,1201.2 L1456.1,1205.0 L1459.6,1208.6 L1463.1,1212.2 L1466.6,1215.7 L1470.1,1219.2 L1473.6,1222.6 L1477.1,1225.9 L1480.6,1229.2 L1484.1,1232.4 L1487.6,1235.6 L1491.1,1238.7 L1494.6,1241.7 L1498.1,1244.7 L1501.6,1247.6 L1505.1,1250.5 L1508.6,1253.3 L1512.1,1256.1 L1515.6,1258.8 L1519.1,1261.5 L1522.7,1264.2 L1526.2,1266.8 L1529.7,1269.3 L1533.2,1271.8 L1536.7,1274.3 L1540.2,1276.7 L1543.7,1279.1 L1547.2,1281.5 L1550.7,1283.8 L1554.2,1286.1 L1557.7,1288.3 L1561.2,1290.5 L1564.7,1292.7 L1568.2,1294.8 L1571.7,1296.9 L1575.2,1299.0 L1578.7,1301.0 L1582.2,1303.0 L1585.7,1305.0 L1589.2,1306.9 L1592.7,1308.8 L1596.2,1310.7 L1599.7,1312.5 L1603.2,1314.4 L1606.8,1316.2 L1610.3,1317.9 L1613.8,1319.7 L1617.3,1321.4 L1620.8,1323.1 L1624.3,1324.8 L1627.8,1326.4 L1631.3,1328.0 L1634.8,1329.6 L1638.3,1331.2 L1641.8,1332.7 L1645.3,1334.3 L1648.8,1335.8 L1652.3,1337.3 L1655.8,1338.7 L1659.3,1340.2 L1662.8,1341.6 L1666.3,1343.0 L1669.8,1344.4 L1673.3,1345.8 L1676.8,1347.1 L1680.3,1348.4 L1683.8,1349.8 L1687.3,1351.0 L1690.8,1352.3 L1694.4,1353.6 L1697.9,1354.8 L1701.4,1356.0 L1704.9,1357.3 L1708.4,1358.5 L1711.9,1359.6 L1715.4,1360.8 L1718.9,1361.9 L1722.4,1363.1 L1725.9,1364.2 L1729.4,1365.3 L1732.9,1366.4 L1736.4,1367.5 L1739.9,1368.5 L1743.4,1369.6 L1746.9,1370.6 L1750.4,1371.6 L1753.9,1372.7 L1757.4,1373.6 L1760.9,1374.6 L1764.4,1375.6 L1767.9,1376.6 L1771.4,1377.5 L1775.0,1378.5 L1778.5,1379.4 L1782.0,1380.3 L1785.5,1381.2 L1789.0,1382.1 L1792.5,1383.0 L1796.0,1383.9 L1799.5,1384.7 L1803.0,1385.6 L1806.5,1386.4 L1810.0,1387.3 L1813.5,1388.1 L1817.0,1388.9 L1820.5,1389.7 L1824.0,1390.5 L1827.5,1391.3 L1831.0,1392.1 L1834.5,1392.8 L1838.0,1393.6 L1841.5,1394.3 L1845.0,1395.1 L1848.5,1395.8 L1852.0,1396.5 L1855.5,1397.3 L1859.0,1398.0 L1862.6,1398.7 L1866.1,1399.4 L1869.6,1400.0 L1873.1,1400.7 L1876.6,1401.4 L1880.1,1402.1 L1883.6,1402.7 L1887.1,1403.4 L1890.6,1404.0 L1894.1,1404.7 L1897.6,1405.3 L1901.1,1405.9 L1904.6,1406.5 L1908.1,1407.1 L1911.6,1407.7 L1915.1,1408.3 L1918.6,1408.9 L1922.1,1409.5 L1925.6,1410.1 L1929.1,1410.7 L1932.6,1411.2 L1936.1,1411.8 L1939.6,1412.4 L1943.2,1412.9 L1946.7,1413.4 L1950.2,1414.0 L1953.7,1414.5 L1957.2,1415.0 L1960.7,1415.6 L1964.2,1416.1 L1967.7,1416.6 L1971.2,1417.1 L1974.7,1417.6 L1978.2,1418.1 L1981.7,1418.6 L1985.2,1419.1 L1988.7,1419.6 L1992.2,1420.0 L1995.7,1420.5 L1999.2,1421.0 L2002.7,1421.5 L2006.2,1421.9 L2009.7,1422.4 L2013.2,1422.8 L2016.7,1423.3 L2020.2,1423.7 L2023.7,1424.2 L2027.2,1424.6 L2030.8,1425.0 L2034.3,1425.4 L2037.8,1425.9 L2041.3,1426.3 L2044.8,1426.7 L2048.3,1427.1 L2051.8,1427.5 L2055.3,1427.9 L2058.8,1428.3 L2062.3,1428.7 L2065.8,1429.1 L2069.3,1429.5 L2072.8,1429.9 L2076.3,1430.3 L2079.8,1430.6 L2083.3,1431.0 L2086.8,1431.4 L2090.3,1431.8 L2093.8,1432.1 L2097.3,1432.5 L2100.8,1432.8 L2104.3,1433.2 L2107.8,1433.6 L2111.3,1433.9 L2114.9,1434.2 L2118.4,1434.6 L2121.9,1434.9 L2125.4,1435.3 L2128.9,1435.6 L2132.4,1435.9 L2135.9,1436.3 L2139.4,1436.6 L2142.9,1436.9 L2146.4,1437.2 L2149.9,1437.5 L2153.4,1437.9 L2156.9,1438.2 L2160.4,1438.5 L2163.9,1438.8 L2167.4,1439.1 L2170.9,1439.4 L2174.4,1439.7 L2177.9,1440.0 L2181.4,1440.3 L2184.9,1440.6 L2188.4,1440.9 L2191.9,1441.2 L2195.4,1441.4 L2199.0,1441.7 L2202.5,1442.0 L2206.0,1442.3 L2209.5,1442.6 L2213.0,1442.8 L2216.5,1443.1 L2220.0,1443.4 L2223.5,1443.6 L2227.0,1443.9 L2230.5,1444.2 L2234.0,1444.4 L2237.5,1444.7" stroke="#000000"/>
<path d="M1396.5,747.0 L1400.0,757.8 L1403.5,768.4 L1407.0,778.7 L1410.5,788.9 L1414.0,798.8 L1417.5,808.5 L1421.0,818.0 L1424.5,827.3 L1428.0,836.4 L1431.5,845.4 L1435.0,854.1 L1438.5,862.7 L1442.1,871.1 L1445.6,879.3 L1449.1,887.4 L1452.6,895.3 L1456.1,903.1 L1459.6,910.7 L1463.1,918.1 L1466.6,925.4 L1470.1,932.6 L1473.6,939.7 L1477.1,946.6 L1480.6,953.4 L1484.1,960.0 L1487.6,966.6 L1491.1,973.0 L1494.6,979.3 L1498.1,985.4 L1501.6,991.5 L1505.1,997.5 L1508.6,1003.3 L1512.1,1009.1 L1515.6,1014.7 L1519.1,1020.3 L1522.7,1025.8 L1526.2,1031.1 L1529.7,1036.4 L1533.2,1041.6 L1536.7,1046.7 L1540.2,1051.7 L1543.7,1056.6 L1547.2,1061.4 L1550.7,1066.2 L1554.2,1070.9 L1557.7,1075.5 L1561.2,1080.0 L1564.7,1084.5 L1568.2,1088.9 L1571.7,1093.2 L1575.2,1097.4 L1578.7,1101.6 L1582.2,1105.7 L1585.7,1109.7 L1589.2,1113.7 L1592.7,1117.7 L1596.2,1121.5 L1599.7,1125.3 L1603.2,1129.1 L1606.8,1132.7 L1610.3,1136.4 L1613.8,1139.9 L1617.3,1143.5 L1620.8,1146.9 L1624.3,1150.4 L1627.8,1153.7 L1631.3,1157.0 L1634.8,1160.3 L1638.3,1163.5 L1641.8,1166.7 L1645.3,1169.8 L1648.8,1172.9 L1652.3,1175.9 L1655.8,1178.9 L1659.3,1181.9 L1662.8,1184.8 L1666.3,1187.7 L1669.8,1190.5 L1673.3,1193.3 L1676.8,1196.1 L1680.3,1198.8 L1683.8,1201.4 L1687.3,1204.1 L1690.8,1206.7 L1694.4,1209.3 L1697.9,1211.8 L1701.4,1214.3 L1704.9,1216.8 L1708.4,1219.2 L1711.9,1221.6 L1715.4,1224.0 L1718.9,1226.3 L1722.4,1228.6 L1725.9,1230.9 L1729.4,1233.2 L1732.9,1235.4 L1736.4,1237.6 L1739.9,1239.7 L1743.4,1241.9 L1746.9,1244.0 L1750.4,1246.1 L1753.9,1248.1 L1757.4,1250.2 L1760.9,1252.2 L1764.4,1254.1 L1767.9,1256.1 L1771.4,1258.0 L1775.0,1259.9 L1778.5,1261.8 L1782.0,1263.7 L1785.5,1265.5 L1789.0,1267.4 L1792.5,1269.2 L1796.0,1270.9 L1799.5,1272.7 L1803.0,1274.4 L1806.5,1276.1 L1810.0,1277.8 L1813.5,1279.5 L1817.0,1281.1 L1820.5,1282.8 L1824.0,1284.4 L1827.5,1286.0 L1831.0,1287.6 L1834.5,1289.1 L1838.0,1290.7 L1841.5,1292.2 L1845.0,1293.7 L1848.5,1295.2 L1852.0,1296.7 L1855.5,1298.1 L1859.0,1299.6 L1862.6,1301.0 L1866.1,1302.4 L1869.6,1303.8 L1873.1,1305.2 L1876.6,1306.5 L1880.1,1307.9 L1883.6,1309.2 L1887.1,1310.5 L1890.6,1311.8 L1894.1,1313.1 L1897.6,1314.4 L1901.1,1315.7 L1904.6,1316.9 L1908.1,1318.2 L1911.6,1319.4 L1915.1,1320.6 L1918.6,1321.8 L1922.1,1323.0 L1925.6,1324.1 L1929.1,1325.3 L1932.6,1326.5 L1936.1,1327.6 L1939.6,1328.7 L1943.2,1329.8 L1946.7,1330.9 L1950.2,1332.0 L1953.7,1333.1 L1957.2,1334.2 L1960.7,1335.2 L1964.2,1336.3 L1967.7,1337.3 L1971.2,1338.3 L1974.7,1339.4 L1978.2,1340.4 L1981.7,1341.4 L1985.2,1342.4 L1988.7,1343.3 L1992.2,1344.3 L1995.7,1345.3 L1999.2,1346.2 L2002.7,1347.1 L2006.2,1348.1 L2009.7,1349.0 L2013.2,1349.9 L2016.7,1350.8 L2020.2,1351.7 L2023.7,1352.6 L2027.2,1353.5 L2030.8,1354.3 L2034.3,1355.2 L2037.8,1356.1 L2041.3,1356.9 L2044.8,1357.7 L2048.3,1358.6 L2051.8,1359.4 L2055.3,1360.2 L2058.8,1361.0 L2062.3,1361.8 L2065.8,1362.6 L2069.3,1363.4 L2072.8,1364.2 L2076.3,1365.0 L2079.8,1365.7 L2083.3,1366.5 L2086.8,1367.2 L2090.3,1368.0 L2093.8,1368.7 L2097.3,1369.4 L2100.8,1370.2 L2104.3,1370.9 L2107.8,1371.6 L2111.3,1372.3 L2114.9,1373.0 L2118.4,1373.7 L2121.9,1374.4 L2125.4,1375.1 L2128.9,1375.7 L2132.4,1376.4 L2135.9,1377.1 L2139.4,1377.7 L2142.9,1378.4 L2146.4,1379.0 L2149.9,1379.7 L2153.4,1380.3 L2156.9,1380.9 L2160.4,1381.6 L2163.9,1382.2 L2167.4,1382.8 L2170.9,1383.4 L2174.4,1384.0 L2177.9,1384.6 L2181.4,1385.2 L2184.9,1385.8 L2188.4,1386.4 L2191.9,1387.0 L2195.4,1387.5 L2199.0,1388.1 L2202.5,1388.7 L2206.0,1389.2 L2209.5,1389.8 L2213.0,1390.3 L2216.5,1390.9 L2220.0,1391.4 L2223.5,1392.0 L2227.0,1392.5 L2230.5,1393.0 L2234.0,1393.6 L2237.5,1394.1" stroke="#ff0000"/>
<path d="M1396.5,273.4 L1400.0,290.9 L1403.5,307.9 L1407.0,324.7 L1410.5,341.0 L1414.0,357.1 L1417.5,372.8 L1421.0,388.1 L1424.5,403.2 L1428.0,418.0 L1431.5,432.4 L1435.0,446.6 L1438.5,460.5 L1442.1,474.1 L1445.6,487.5 L1449.1,500.6 L1452.6,513.4 L1456.1,526.0 L1459.6,538.4 L1463.1,550.5 L1466.6,562.4 L1470.1,574.0 L1473.6,585.5 L1477.1,596.7 L1480.6,607.8 L1484.1,618.6 L1487.6,629.2 L1491.1,639.7 L1494.6,649.9 L1498.1,660.0 L1501.6,669.9 L1505.1,679.6 L1508.6,689.2 L1512.1,698.6 L1515.6,707.8 L1519.1,716.8 L1522.7,725.7 L1526.2,734.5 L1529.7,743.1 L1533.2,751.6 L1536.7,759.9 L1540.2,768.1 L1543.7,776.1 L1547.2,784.0 L1550.7,791.8 L1554.2,799.5 L1557.7,807.0 L1561.2,814.4 L1564.7,821.7 L1568.2,828.9 L1571.7,835.9 L1575.2,842.9 L1578.7,849.7 L1582.2,856.5 L1585.7,863.1 L1589.2,869.6 L1592.7,876.0 L1596.2,882.4 L1599.7,888.6 L1603.2,894.7 L1606.8,900.8 L1610.3,906.7 L1613.8,912.6 L1617.3,918.4 L1620.8,924.1 L1624.3,929.7 L1627.8,935.2 L1631.3,940.6 L1634.8,946.0 L1638.3,951.3 L1641.8,956.5 L1645.3,961.7 L1648.8,966.7 L1652.3,971.7 L1655.8,976.6 L1659.3,981.5 L1662.8,986.3 L1666.3,991.0 L1669.8,995.7 L1673.3,1000.2 L1676.8,1004.8 L1680.3,1009.2 L1683.8,1013.6 L1687.3,1018.0 L1690.8,1022.3 L1694.4,1026.5 L1697.9,1030.7 L1701.4,1034.8 L1704.9,1038.9 L1708.4,1042.9 L1711.9,1046.8 L1715.4,1050.7 L1718.9,1054.6 L1722.4,1058.4 L1725.9,1062.2 L1729.4,1065.9 L1732.9,1069.5 L1736.4,1073.1 L1739.9,1076.7 L1743.4,1080.2 L1746.9,1083.7 L1750.4,1087.1 L1753.9,1090.5 L1757.4,1093.9 L1760.9,1097.2 L1764.4,1100.5 L1767.9,1103.7 L1771.4,1106.9 L1775.0,1110.0 L1778.5,1113.1 L1782.0,1116.2 L1785.5,1119.3 L1789.0,1122.3 L1792.5,1125.2 L1796.0,1128.2 L1799.5,1131.1 L1803.0,1133.9 L1806.5,1136.7 L1810.0,1139.5 L1813.5,1142.3 L1817.0,1145.0 L1820.5,1147.7 L1824.0,1150.4 L1827.5,1153.0 L1831.0,1155.6 L1834.5,1158.2 L1838.0,1160.8 L1841.5,1163.3 L1845.0,1165.8 L1848.5,1168.2 L1852.0,1170.7 L1855.5,1173.1 L1859.0,1175.5 L1862.6,1177.8 L1866.1,1180.1 L1869.6,1182.4 L1873.1,1184.7 L1876.6,1187.0 L1880.1,1189.2 L1883.6,1191.4 L1887.1,1193.6 L1890.6,1195.7 L1894.1,1197.9 L1897.6,1200.0 L1901.1,1202.1 L1904.6,1204.2 L1908.1,1206.2 L1911.6,1208.2 L1915.1,1210.2 L1918.6,1212.2 L1922.1,1214.2 L1925.6,1216.1 L1929.1,1218.0 L1932.6,1219.9 L1936.1,1221.8 L1939.6,1223.7 L1943.2,1225.5 L1946.7,1227.3 L1950.2,1229.1 L1953.7,1230.9 L1957.2,1232.7 L1960.7,1234.5 L1964.2,1236.2 L1967.7,1237.9 L1971.2,1239.6 L1974.7,1241.3 L1978.2,1243.0 L1981.7,1244.6 L1985.2,1246.2 L1988.7,1247.9 L1992.2,1249.5 L1995.7,1251.1 L1999.2,1252.6 L2002.7,1254.2 L2006.2,1255.7 L2009.7,1257.3 L2013.2,1258.8 L2016.7,1260.3 L2020.2,1261.7 L2023.7,1263.2 L2027.2,1264.7 L2030.8,1266.1 L2034.3,1267.5 L2037.8,1269.0 L2041.3,1270.4 L2044.8,1271.7 L2048.3,1273.1 L2051.8,1274.5 L2055.3,1275.8 L2058.8,1277.2 L2062.3,1278.5 L2065.8,1279.8 L2069.3,1281.1 L2072.8,1282.4 L2076.3,1283.7 L2079.8,1285.0 L2083.3,1286.2 L2086.8,1287.5 L2090.3,1288.7 L2093.8,1289.9 L2097.3,1291.1 L2100.8,1292.3 L2104.3,1293.5 L2107.8,1294.7 L2111.3,1295.9 L2114.9,1297.0 L2118.4,1298.2 L2121.9,1299.3 L2125.4,1300.4 L2128.9,1301.6 L2132.4,1302.7 L2135.9,1303.8 L2139.4,1304.9 L2142.9,1305.9 L2146.4,1307.0 L2149.9,1308.1 L2153.4,1309.1 L2156.9,1310.2 L2160.4,1311.2 L2163.9,1312.2 L2167.4,1313.3 L2170.9,1314.3 L2174.4,1315.3 L2177.9,1316.3 L2181.4,1317.2 L2184.9,1318.2 L2188.4,1319.2 L2191.9,1320.2 L2195.4,1321.1 L2199.0,1322.1 L2202.5,1323.0 L2206.0,1323.9 L2209.5,1324.8 L2213.0,1325.8 L2216.5,1326.7 L2220.0,1327.6 L2223.5,1328.5 L2227.0,1329.3 L2230.5,1330.2 L2234.0,1331.1 L2237.5,1332.0" stroke="#0000ff"/>
</g>
<clipPath id="clipc"><rect x="313.3" y="1653.5" width="843.7" height="1311"/></clipPath>
<g clip-path="url(#clipc)" fill="none" stroke-width="9.2" stroke-linejoin="round" stroke-linecap="butt" shape-rendering="crispEdges">
<path d="M313.5,2595.1 L317.0,2600.1 L320.5,2605.0 L324.0,2609.7 L327.5,2614.4 L331.0,2619.0 L334.6,2623.5 L338.1,2627.9 L341.6,2632.2 L345.1,2636.5 L348.6,2640.6 L352.1,2644.7 L355.6,2648.7 L359.1,2652.6 L362.6,2656.4 L366.1,2660.2 L369.6,2663.9 L373.1,2667.5 L376.6,2671.1 L380.2,2674.6 L383.7,2678.0 L387.2,2681.4 L390.7,2684.7 L394.2,2687.9 L397.7,2691.1 L401.2,2694.3 L404.7,2697.3 L408.2,2700.3 L411.7,2703.3 L415.2,2706.2 L418.8,2709.1 L422.3,2711.9 L425.8,2714.7 L429.3,2717.4 L432.8,2720.1 L436.3,2722.7 L439.8,2725.3 L443.3,2727.8 L446.8,2730.3 L450.3,2732.8 L453.8,2735.2 L457.3,2737.6 L460.9,2739.9 L464.4,2742.3 L467.9,2744.5 L471.4,2746.8 L474.9,2748.9 L478.4,2751.1 L481.9,2753.2 L485.4,2755.3 L488.9,2757.4 L492.4,2759.4 L495.9,2761.4 L499.4,2763.4 L502.9,2765.3 L506.5,2767.2 L510.0,2769.1 L513.5,2771.0 L517.0,2772.8 L520.5,2774.6 L524.0,2776.4 L527.5,2778.1 L531.0,2779.8 L534.5,2781.5 L538.0,2783.2 L541.5,2784.8 L545.0,2786.5 L548.6,2788.1 L552.1,2789.6 L555.6,2791.2 L559.1,2792.7 L562.6,2794.2 L566.1,2795.7 L569.6,2797.2 L573.1,2798.6 L576.6,2800.1 L580.1,2801.5 L583.6,2802.9 L587.1,2804.2 L590.7,2805.6 L594.2,2806.9 L597.7,2808.2 L601.2,2809.5 L604.7,2810.8 L608.2,2812.1 L611.7,2813.3 L615.2,2814.6 L618.7,2815.8 L622.2,2817.0 L625.7,2818.2 L629.2,2819.3 L632.8,2820.5 L636.3,2821.6 L639.8,2822.7 L643.3,2823.9 L646.8,2825.0 L650.3,2826.0 L653.8,2827.1 L657.3,2828.2 L660.8,2829.2 L664.3,2830.2 L667.8,2831.3 L671.4,2832.3 L674.9,2833.2 L678.4,2834.2 L681.9,2835.2 L685.4,2836.2 L688.9,2837.1 L692.4,2838.0 L695.9,2839.0 L699.4,2839.9 L702.9,2840.8 L706.4,2841.7 L709.9,2842.5 L713.5,2843.4 L717.0,2844.3 L720.5,2845.1 L724.0,2846.0 L727.5,2846.8 L731.0,2847.6 L734.5,2848.4 L738.0,2849.2 L741.5,2850.0 L745.0,2850.8 L748.5,2851.6 L752.0,2852.4 L755.5,2853.1 L759.1,2853.9 L762.6,2854.6 L766.1,2855.3 L769.6,2856.1 L773.1,2856.8 L776.6,2857.5 L780.1,2858.2 L783.6,2858.9 L787.1,2859.6 L790.6,2860.3 L794.1,2860.9 L797.6,2861.6 L801.2,2862.3 L804.7,2862.9 L808.2,2863.6 L811.7,2864.2 L815.2,2864.8 L818.7,2865.4 L822.2,2866.1 L825.7,2866.7 L829.2,2867.3 L832.7,2867.9 L836.2,2868.5 L839.8,2869.1 L843.3,2869.6 L846.8,2870.2 L850.3,2870.8 L853.8,2871.3 L857.3,2871.9 L860.8,2872.5 L864.3,2873.0 L867.8,2873.5 L871.3,2874.1 L874.8,2874.6 L878.3,2875.1 L881.9,2875.7 L885.4,2876.2 L888.9,2876.7 L892.4,2877.2 L895.9,2877.7 L899.4,2878.2 L902.9,2878.7 L906.4,2879.2 L909.9,2879.6 L913.4,2880.1 L916.9,2880.6 L920.4,2881.1 L924.0,2881.5 L927.5,2882.0 L931.0,2882.4 L934.5,2882.9 L938.0,2883.3 L941.5,2883.8 L945.0,2884.2 L948.5,2884.6 L952.0,2885.1 L955.5,2885.5 L959.0,2885.9 L962.5,2886.3 L966.0,2886.7 L969.6,2887.2 L973.1,2887.6 L976.6,2888.0 L980.1,2888.4 L983.6,2888.8 L987.1,2889.2 L990.6,2889.5 L994.1,2889.9 L997.6,2890.3 L1001.1,2890.7 L1004.6,2891.1 L1008.1,2891.4 L1011.7,2891.8 L1015.2,2892.2 L1018.7,2892.5 L1022.2,2892.9 L1025.7,2893.2 L1029.2,2893.6 L1032.7,2894.0 L1036.2,2894.3 L1039.7,2894.6 L1043.2,2895.0 L1046.7,2895.3 L1050.2,2895.7 L1053.8,2896.0 L1057.3,2896.3 L1060.8,2896.6 L1064.3,2897.0 L1067.8,2897.3 L1071.3,2897.6 L1074.8,2897.9 L1078.3,2898.2 L1081.8,2898.5 L1085.3,2898.9 L1088.8,2899.2 L1092.3,2899.5 L1095.9,2899.8 L1099.4,2900.1 L1102.9,2900.4 L1106.4,2900.7 L1109.9,2900.9 L1113.4,2901.2 L1116.9,2901.5 L1120.4,2901.8 L1123.9,2902.1 L1127.4,2902.4 L1130.9,2902.6 L1134.5,2902.9 L1138.0,2903.2 L1141.5,2903.5 L1145.0,2903.7 L1148.5,2904.0 L1152.0,2904.3 L1155.5,2904.5" stroke="#000000"/>
<path d="M313.5,2219.7 L317.0,2229.8 L320.5,2239.8 L324.0,2249.5 L327.5,2259.1 L331.0,2268.5 L334.6,2277.6 L338.1,2286.6 L341.6,2295.4 L345.1,2304.1 L348.6,2312.5 L352.1,2320.8 L355.6,2329.0 L359.1,2337.0 L362.6,2344.8 L366.1,2352.5 L369.6,2360.0 L373.1,2367.4 L376.6,2374.7 L380.2,2381.8 L383.7,2388.8 L387.2,2395.7 L390.7,2402.5 L394.2,2409.1 L397.7,2415.6 L401.2,2422.0 L404.7,2428.3 L408.2,2434.4 L411.7,2440.5 L415.2,2446.4 L418.8,2452.3 L422.3,2458.0 L425.8,2463.7 L429.3,2469.3 L432.8,2474.7 L436.3,2480.1 L439.8,2485.4 L443.3,2490.6 L446.8,2495.7 L450.3,2500.7 L453.8,2505.6 L457.3,2510.5 L460.9,2515.3 L464.4,2520.0 L467.9,2524.6 L471.4,2529.2 L474.9,2533.7 L478.4,2538.1 L481.9,2542.4 L485.4,2546.7 L488.9,2550.9 L492.4,2555.1 L495.9,2559.2 L499.4,2563.2 L502.9,2567.1 L506.5,2571.0 L510.0,2574.9 L513.5,2578.7 L517.0,2582.4 L520.5,2586.1 L524.0,2589.7 L527.5,2593.3 L531.0,2596.8 L534.5,2600.2 L538.0,2603.6 L541.5,2607.0 L545.0,2610.3 L548.6,2613.6 L552.1,2616.8 L555.6,2620.0 L559.1,2623.1 L562.6,2626.2 L566.1,2629.3 L569.6,2632.3 L573.1,2635.2 L576.6,2638.1 L580.1,2641.0 L583.6,2643.9 L587.1,2646.7 L590.7,2649.4 L594.2,2652.2 L597.7,2654.9 L601.2,2657.5 L604.7,2660.1 L608.2,2662.7 L611.7,2665.3 L615.2,2667.8 L618.7,2670.3 L622.2,2672.7 L625.7,2675.2 L629.2,2677.5 L632.8,2679.9 L636.3,2682.2 L639.8,2684.5 L643.3,2686.8 L646.8,2689.1 L650.3,2691.3 L653.8,2693.5 L657.3,2695.6 L660.8,2697.8 L664.3,2699.9 L667.8,2701.9 L671.4,2704.0 L674.9,2706.0 L678.4,2708.0 L681.9,2710.0 L685.4,2712.0 L688.9,2713.9 L692.4,2715.8 L695.9,2717.7 L699.4,2719.6 L702.9,2721.4 L706.4,2723.3 L709.9,2725.1 L713.5,2726.8 L717.0,2728.6 L720.5,2730.3 L724.0,2732.1 L727.5,2733.8 L731.0,2735.4 L734.5,2737.1 L738.0,2738.7 L741.5,2740.4 L745.0,2742.0 L748.5,2743.6 L752.0,2745.1 L755.5,2746.7 L759.1,2748.2 L762.6,2749.7 L766.1,2751.2 L769.6,2752.7 L773.1,2754.2 L776.6,2755.7 L780.1,2757.1 L783.6,2758.5 L787.1,2759.9 L790.6,2761.3 L794.1,2762.7 L797.6,2764.0 L801.2,2765.4 L804.7,2766.7 L808.2,2768.1 L811.7,2769.4 L815.2,2770.6 L818.7,2771.9 L822.2,2773.2 L825.7,2774.4 L829.2,2775.7 L832.7,2776.9 L836.2,2778.1 L839.8,2779.3 L843.3,2780.5 L846.8,2781.7 L850.3,2782.9 L853.8,2784.0 L857.3,2785.2 L860.8,2786.3 L864.3,2787.4 L867.8,2788.5 L871.3,2789.6 L874.8,2790.7 L878.3,2791.8 L881.9,2792.8 L885.4,2793.9 L888.9,2794.9 L892.4,2796.0 L895.9,2797.0 L899.4,2798.0 L902.9,2799.0 L906.4,2800.0 L909.9,2801.0 L913.4,2802.0 L916.9,2802.9 L920.4,2803.9 L924.0,2804.8 L927.5,2805.8 L931.0,2806.7 L934.5,2807.6 L938.0,2808.5 L941.5,2809.4 L945.0,2810.3 L948.5,2811.2 L952.0,2812.1 L955.5,2813.0 L959.0,2813.8 L962.5,2814.7 L966.0,2815.6 L969.6,2816.4 L973.1,2817.2 L976.6,2818.1 L980.1,2818.9 L983.6,2819.7 L987.1,2820.5 L990.6,2821.3 L994.1,2822.1 L997.6,2822.9 L1001.1,2823.6 L1004.6,2824.4 L1008.1,2825.2 L1011.7,2825.9 L1015.2,2826.7 L1018.7,2827.4 L1022.2,2828.1 L1025.7,2828.9 L1029.2,2829.6 L1032.7,2830.3 L1036.2,2831.0 L1039.7,2831.7 L1043.2,2832.4 L1046.7,2833.1 L1050.2,2833.8 L1053.8,2834.5 L1057.3,2835.2 L1060.8,2835.8 L1064.3,2836.5 L1067.8,2837.1 L1071.3,2837.8 L1074.8,2838.4 L1078.3,2839.1 L1081.8,2839.7 L1085.3,2840.4 L1088.8,2841.0 L1092.3,2841.6 L1095.9,2842.2 L1099.4,2842.8 L1102.9,2843.4 L1106.4,2844.0 L1109.9,2844.6 L1113.4,2845.2 L1116.9,2845.8 L1120.4,2846.4 L1123.9,2847.0 L1127.4,2847.5 L1130.9,2848.1 L1134.5,2848.7 L1138.0,2849.2 L1141.5,2849.8 L1145.0,2850.3 L1148.5,2850.9 L1152.0,2851.4 L1155.5,2852.0" stroke="#ff0000"/>
<path d="M313.5,1746.4 L317.0,1763.0 L320.5,1779.3 L324.0,1795.2 L327.5,1810.9 L331.0,1826.2 L334.6,1841.2 L338.1,1855.9 L341.6,1870.3 L345.1,1884.4 L348.6,1898.3 L352.1,1911.9 L355.6,1925.2 L359.1,1938.3 L362.6,1951.1 L366.1,1963.7 L369.6,1976.0 L373.1,1988.2 L376.6,2000.1 L380.2,2011.7 L383.7,2023.2 L387.2,2034.5 L390.7,2045.5 L394.2,2056.4 L397.7,2067.0 L401.2,2077.5 L404.7,2087.8 L408.2,2097.9 L411.7,2107.8 L415.2,2117.6 L418.8,2127.2 L422.3,2136.6 L425.8,2145.9 L429.3,2155.0 L432.8,2164.0 L436.3,2172.8 L439.8,2181.5 L443.3,2190.0 L446.8,2198.4 L450.3,2206.6 L453.8,2214.7 L457.3,2222.7 L460.9,2230.5 L464.4,2238.3 L467.9,2245.9 L471.4,2253.3 L474.9,2260.7 L478.4,2268.0 L481.9,2275.1 L485.4,2282.1 L488.9,2289.0 L492.4,2295.8 L495.9,2302.5 L499.4,2309.2 L502.9,2315.7 L506.5,2322.1 L510.0,2328.4 L513.5,2334.6 L517.0,2340.7 L520.5,2346.7 L524.0,2352.7 L527.5,2358.6 L531.0,2364.3 L534.5,2370.0 L538.0,2375.6 L541.5,2381.2 L545.0,2386.6 L548.6,2392.0 L552.1,2397.3 L555.6,2402.5 L559.1,2407.6 L562.6,2412.7 L566.1,2417.7 L569.6,2422.7 L573.1,2427.5 L576.6,2432.3 L580.1,2437.1 L583.6,2441.7 L587.1,2446.4 L590.7,2450.9 L594.2,2455.4 L597.7,2459.8 L601.2,2464.2 L604.7,2468.5 L608.2,2472.8 L611.7,2477.0 L615.2,2481.1 L618.7,2485.2 L622.2,2489.2 L625.7,2493.2 L629.2,2497.1 L632.8,2501.0 L636.3,2504.9 L639.8,2508.7 L643.3,2512.4 L646.8,2516.1 L650.3,2519.7 L653.8,2523.3 L657.3,2526.9 L660.8,2530.4 L664.3,2533.9 L667.8,2537.3 L671.4,2540.7 L674.9,2544.0 L678.4,2547.3 L681.9,2550.6 L685.4,2553.8 L688.9,2557.0 L692.4,2560.2 L695.9,2563.3 L699.4,2566.4 L702.9,2569.4 L706.4,2572.4 L709.9,2575.4 L713.5,2578.3 L717.0,2581.2 L720.5,2584.1 L724.0,2586.9 L727.5,2589.7 L731.0,2592.5 L734.5,2595.2 L738.0,2597.9 L741.5,2600.6 L745.0,2603.2 L748.5,2605.9 L752.0,2608.4 L755.5,2611.0 L759.1,2613.5 L762.6,2616.0 L766.1,2618.5 L769.6,2621.0 L773.1,2623.4 L776.6,2625.8 L780.1,2628.1 L783.6,2630.5 L787.1,2632.8 L790.6,2635.1 L794.1,2637.4 L797.6,2639.6 L801.2,2641.8 L804.7,2644.0 L808.2,2646.2 L811.7,2648.4 L815.2,2650.5 L818.7,2652.6 L822.2,2654.7 L825.7,2656.8 L829.2,2658.8 L832.7,2660.8 L836.2,2662.8 L839.8,2664.8 L843.3,2666.8 L846.8,2668.7 L850.3,2670.6 L853.8,2672.5 L857.3,2674.4 L860.8,2676.3 L864.3,2678.1 L867.8,2680.0 L871.3,2681.8 L874.8,2683.6 L878.3,2685.3 L881.9,2687.1 L885.4,2688.8 L888.9,2690.5 L892.4,2692.3 L895.9,2693.9 L899.4,2695.6 L902.9,2697.3 L906.4,2698.9 L909.9,2700.5 L913.4,2702.1 L916.9,2703.7 L920.4,2705.3 L924.0,2706.9 L927.5,2708.4 L931.0,2710.0 L934.5,2711.5 L938.0,2713.0 L941.5,2714.5 L945.0,2716.0 L948.5,2717.4 L952.0,2718.9 L955.5,2720.3 L959.0,2721.8 L962.5,2723.2 L966.0,2724.6 L969.6,2726.0 L973.1,2727.3 L976.6,2728.7 L980.1,2730.0 L983.6,2731.4 L987.1,2732.7 L990.6,2734.0 L994.1,2735.3 L997.6,2736.6 L1001.1,2737.9 L1004.6,2739.2 L1008.1,2740.4 L1011.7,2741.7 L1015.2,2742.9 L1018.7,2744.1 L1022.2,2745.3 L1025.7,2746.6 L1029.2,2747.7 L1032.7,2748.9 L1036.2,2750.1 L1039.7,2751.3 L1043.2,2752.4 L1046.7,2753.6 L1050.2,2754.7 L1053.8,2755.8 L1057.3,2756.9 L1060.8,2758.0 L1064.3,2759.1 L1067.8,2760.2 L1071.3,2761.3 L1074.8,2762.4 L1078.3,2763.4 L1081.8,2764.5 L1085.3,2765.5 L1088.8,2766.6 L1092.3,2767.6 L1095.9,2768.6 L1099.4,2769.6 L1102.9,2770.6 L1106.4,2771.6 L1109.9,2772.6 L1113.4,2773.6 L1116.9,2774.5 L1120.4,2775.5 L1123.9,2776.5 L1127.4,2777.4 L1130.9,2778.3 L1134.5,2779.3 L1138.0,2780.2 L1141.5,2781.1 L1145.0,2782.0 L1148.5,2782.9 L1152.0,2783.8 L1155.5,2784.7" stroke="#0000ff"/>
</g>
<clipPath id="clipd"><rect x="1396.3" y="1653.5" width="842.7" height="1311"/></clipPath>
<g clip-path="url(#clipd)" fill="none" stroke-width="9.2" stroke-linejoin="round" stroke-linecap="butt" shape-rendering="crispEdges">
<path d="M1396.5,2834.6 L1400.0,2833.9 L1403.5,2833.3 L1407.0,2832.6 L1410.5,2831.9 L1414.0,2831.2 L1417.5,2830.5 L1421.0,2829.8 L1424.5,2829.1 L1428.0,2828.4 L1431.5,2827.6 L1435.0,2826.9 L1438.5,2826.2 L1442.1,2825.4 L1445.6,2824.7 L1449.1,2823.9 L1452.6,2823.2 L1456.1,2822.4 L1459.6,2821.6 L1463.1,2820.8 L1466.6,2820.0 L1470.1,2819.2 L1473.6,2818.4 L1477.1,2817.6 L1480.6,2816.8 L1484.1,2816.0 L1487.6,2815.1 L1491.1,2814.3 L1494.6,2813.4 L1498.1,2812.6 L1501.6,2811.7 L1505.1,2810.8 L1508.6,2810.0 L1512.1,2809.1 L1515.6,2808.2 L1519.1,2807.2 L1522.7,2806.3 L1526.2,2805.4 L1529.7,2804.5 L1533.2,2803.5 L1536.7,2802.6 L1540.2,2801.6 L1543.7,2800.6 L1547.2,2799.6 L1550.7,2798.7 L1554.2,2797.7 L1557.7,2796.6 L1561.2,2795.6 L1564.7,2794.6 L1568.2,2793.5 L1571.7,2792.5 L1575.2,2791.4 L1578.7,2790.3 L1582.2,2789.3 L1585.7,2788.2 L1589.2,2787.1 L1592.7,2785.9 L1596.2,2784.8 L1599.7,2783.7 L1603.2,2782.5 L1606.8,2781.3 L1610.3,2780.2 L1613.8,2779.0 L1617.3,2777.8 L1620.8,2776.6 L1624.3,2775.3 L1627.8,2774.1 L1631.3,2772.8 L1634.8,2771.6 L1638.3,2770.3 L1641.8,2769.0 L1645.3,2767.7 L1648.8,2766.4 L1652.3,2765.0 L1655.8,2763.7 L1659.3,2762.3 L1662.8,2760.9 L1666.3,2759.5 L1669.8,2758.1 L1673.3,2756.7 L1676.8,2755.2 L1680.3,2753.8 L1683.8,2752.3 L1687.3,2750.8 L1690.8,2749.3 L1694.4,2747.7 L1697.9,2746.2 L1701.4,2744.6 L1704.9,2743.1 L1708.4,2741.4 L1711.9,2739.8 L1715.4,2738.2 L1718.9,2736.5 L1722.4,2734.9 L1725.9,2733.2 L1729.4,2731.4 L1732.9,2729.7 L1736.4,2727.9 L1739.9,2726.2 L1743.4,2724.4 L1746.9,2722.5 L1750.4,2720.7 L1753.9,2718.8 L1757.4,2716.9 L1760.9,2715.0 L1764.4,2713.1 L1767.9,2711.1 L1771.4,2709.2 L1775.0,2707.1 L1778.5,2705.1 L1782.0,2703.0 L1785.5,2701.0 L1789.0,2698.8 L1792.5,2696.7 L1796.0,2694.5 L1799.5,2692.3 L1803.0,2690.1 L1806.5,2687.9 L1810.0,2685.6 L1813.5,2683.3 L1817.0,2680.9 L1820.5,2678.6 L1824.0,2676.1 L1827.5,2673.7 L1831.0,2671.2 L1834.5,2668.7 L1838.0,2666.2 L1841.5,2663.6 L1845.0,2661.0 L1848.5,2658.4 L1852.0,2655.7 L1855.5,2653.0 L1859.0,2650.2 L1862.6,2647.4 L1866.1,2644.6 L1869.6,2641.7 L1873.1,2638.8 L1876.6,2635.9 L1880.1,2632.9 L1883.6,2629.8 L1887.1,2626.7 L1890.6,2623.6 L1894.1,2620.4 L1897.6,2617.2 L1901.1,2614.0 L1904.6,2610.6 L1908.1,2607.3 L1911.6,2603.9 L1915.1,2600.4 L1918.6,2596.9 L1922.1,2593.3 L1925.6,2589.7 L1929.1,2586.0 L1932.6,2582.2 L1936.1,2578.4 L1939.6,2574.6 L1943.2,2570.7 L1946.7,2566.7 L1950.2,2562.6 L1953.7,2558.5 L1957.2,2554.4 L1960.7,2550.1 L1964.2,2545.8 L1967.7,2541.4 L1971.2,2537.0 L1974.7,2532.5 L1978.2,2527.9 L1981.7,2523.2 L1985.2,2518.4 L1988.7,2513.6 L1992.2,2508.7 L1995.7,2503.7 L1999.2,2498.6 L2002.7,2493.4 L2006.2,2488.1 L2009.7,2482.8 L2013.2,2477.3 L2016.7,2471.8 L2020.2,2466.2 L2023.7,2460.4 L2027.2,2454.6 L2030.8,2448.6 L2034.3,2442.5 L2037.8,2436.4 L2041.3,2430.1 L2044.8,2423.7 L2048.3,2417.2 L2051.8,2410.5 L2055.3,2403.7 L2058.8,2396.8 L2062.3,2389.8 L2065.8,2382.7 L2069.3,2375.3 L2072.8,2367.9 L2076.3,2360.3 L2079.8,2352.6 L2083.3,2344.7 L2086.8,2336.6 L2090.3,2328.4 L2093.8,2320.0 L2097.3,2311.4 L2100.8,2302.7 L2104.3,2293.8 L2107.8,2284.7 L2111.3,2275.4 L2114.9,2265.9 L2118.4,2256.2 L2121.9,2246.3 L2125.4,2236.2 L2128.9,2225.9 L2132.4,2215.3 L2135.9,2204.5 L2139.4,2193.5 L2142.9,2182.2 L2146.4,2170.7 L2149.9,2158.9 L2153.4,2146.8 L2156.9,2134.5 L2160.4,2121.8 L2163.9,2108.9 L2167.4,2095.7 L2170.9,2082.1 L2174.4,2068.2 L2177.9,2054.0 L2181.4,2039.4 L2184.9,2024.5 L2188.4,2009.2 L2191.9,1993.5 L2195.4,1977.4 L2199.0,1960.9 L2202.5,1944.0 L2206.0,1926.7 L2209.5,1908.9 L2213.0,1890.6 L2216.5,1871.8 L2220.0,1852.5 L2223.5,1832.7 L2227.0,1812.4 L2230.5,1791.5 L2234.0,1770.0 L2237.5,1747.9" stroke="#000000"/>
<path d="M1396.5,2788.7 L1400.0,2788.2 L1403.5,2787.8 L1407.0,2787.3 L1410.5,2786.9 L1414.0,2786.4 L1417.5,2785.9 L1421.0,2785.4 L1424.5,2784.9 L1428.0,2784.4 L1431.5,2783.9 L1435.0,2783.4 L1438.5,2782.9 L1442.1,2782.3 L1445.6,2781.8 L1449.1,2781.2 L1452.6,2780.7 L1456.1,2780.1 L1459.6,2779.5 L1463.1,2778.9 L1466.6,2778.3 L1470.1,2777.7 L1473.6,2777.1 L1477.1,2776.5 L1480.6,2775.9 L1484.1,2775.2 L1487.6,2774.6 L1491.1,2773.9 L1494.6,2773.3 L1498.1,2772.6 L1501.6,2771.9 L1505.1,2771.2 L1508.6,2770.5 L1512.1,2769.8 L1515.6,2769.1 L1519.1,2768.3 L1522.7,2767.6 L1526.2,2766.8 L1529.7,2766.1 L1533.2,2765.3 L1536.7,2764.5 L1540.2,2763.7 L1543.7,2762.9 L1547.2,2762.1 L1550.7,2761.3 L1554.2,2760.4 L1557.7,2759.6 L1561.2,2758.7 L1564.7,2757.9 L1568.2,2757.0 L1571.7,2756.1 L1575.2,2755.2 L1578.7,2754.3 L1582.2,2753.3 L1585.7,2752.4 L1589.2,2751.4 L1592.7,2750.5 L1596.2,2749.5 L1599.7,2748.5 L1603.2,2747.5 L1606.8,2746.5 L1610.3,2745.5 L1613.8,2744.4 L1617.3,2743.4 L1620.8,2742.3 L1624.3,2741.2 L1627.8,2740.1 L1631.3,2739.0 L1634.8,2737.9 L1638.3,2736.7 L1641.8,2735.6 L1645.3,2734.4 L1648.8,2733.2 L1652.3,2732.0 L1655.8,2730.8 L1659.3,2729.6 L1662.8,2728.3 L1666.3,2727.1 L1669.8,2725.8 L1673.3,2724.5 L1676.8,2723.2 L1680.3,2721.9 L1683.8,2720.5 L1687.3,2719.2 L1690.8,2717.8 L1694.4,2716.4 L1697.9,2715.0 L1701.4,2713.5 L1704.9,2712.1 L1708.4,2710.6 L1711.9,2709.1 L1715.4,2707.6 L1718.9,2706.1 L1722.4,2704.5 L1725.9,2703.0 L1729.4,2701.4 L1732.9,2699.7 L1736.4,2698.1 L1739.9,2696.5 L1743.4,2694.8 L1746.9,2693.1 L1750.4,2691.4 L1753.9,2689.6 L1757.4,2687.8 L1760.9,2686.0 L1764.4,2684.2 L1767.9,2682.4 L1771.4,2680.5 L1775.0,2678.6 L1778.5,2676.7 L1782.0,2674.8 L1785.5,2672.8 L1789.0,2670.8 L1792.5,2668.8 L1796.0,2666.7 L1799.5,2664.6 L1803.0,2662.5 L1806.5,2660.4 L1810.0,2658.2 L1813.5,2656.0 L1817.0,2653.8 L1820.5,2651.5 L1824.0,2649.2 L1827.5,2646.9 L1831.0,2644.5 L1834.5,2642.1 L1838.0,2639.7 L1841.5,2637.2 L1845.0,2634.7 L1848.5,2632.2 L1852.0,2629.6 L1855.5,2627.0 L1859.0,2624.4 L1862.6,2621.7 L1866.1,2619.0 L1869.6,2616.2 L1873.1,2613.4 L1876.6,2610.5 L1880.1,2607.6 L1883.6,2604.7 L1887.1,2601.7 L1890.6,2598.7 L1894.1,2595.6 L1897.6,2592.5 L1901.1,2589.3 L1904.6,2586.1 L1908.1,2582.8 L1911.6,2579.5 L1915.1,2576.2 L1918.6,2572.7 L1922.1,2569.3 L1925.6,2565.7 L1929.1,2562.1 L1932.6,2558.5 L1936.1,2554.8 L1939.6,2551.0 L1943.2,2547.2 L1946.7,2543.3 L1950.2,2539.4 L1953.7,2535.4 L1957.2,2531.3 L1960.7,2527.1 L1964.2,2522.9 L1967.7,2518.6 L1971.2,2514.3 L1974.7,2509.8 L1978.2,2505.3 L1981.7,2500.7 L1985.2,2496.1 L1988.7,2491.3 L1992.2,2486.5 L1995.7,2481.6 L1999.2,2476.6 L2002.7,2471.5 L2006.2,2466.3 L2009.7,2461.1 L2013.2,2455.7 L2016.7,2450.3 L2020.2,2444.7 L2023.7,2439.0 L2027.2,2433.3 L2030.8,2427.4 L2034.3,2421.4 L2037.8,2415.4 L2041.3,2409.2 L2044.8,2402.8 L2048.3,2396.4 L2051.8,2389.8 L2055.3,2383.2 L2058.8,2376.3 L2062.3,2369.4 L2065.8,2362.3 L2069.3,2355.1 L2072.8,2347.7 L2076.3,2340.2 L2079.8,2332.6 L2083.3,2324.7 L2086.8,2316.8 L2090.3,2308.6 L2093.8,2300.3 L2097.3,2291.8 L2100.8,2283.2 L2104.3,2274.4 L2107.8,2265.3 L2111.3,2256.1 L2114.9,2246.7 L2118.4,2237.1 L2121.9,2227.3 L2125.4,2217.3 L2128.9,2207.0 L2132.4,2196.5 L2135.9,2185.8 L2139.4,2174.9 L2142.9,2163.7 L2146.4,2152.2 L2149.9,2140.5 L2153.4,2128.5 L2156.9,2116.2 L2160.4,2103.7 L2163.9,2090.8 L2167.4,2077.6 L2170.9,2064.2 L2174.4,2050.3 L2177.9,2036.2 L2181.4,2021.7 L2184.9,2006.9 L2188.4,1991.6 L2191.9,1976.0 L2195.4,1960.0 L2199.0,1943.6 L2202.5,1926.8 L2206.0,1909.5 L2209.5,1891.7 L2213.0,1873.5 L2216.5,1854.8 L2220.0,1835.6 L2223.5,1815.9 L2227.0,1795.6 L2230.5,1774.8 L2234.0,1753.4 L2237.5,1731.4" stroke="#ff0000"/>
<path d="M1396.5,2706.9 L1400.0,2706.8 L1403.5,2706.6 L1407.0,2706.4 L1410.5,2706.2 L1414.0,2706.0 L1417.5,2705.8 L1421.0,2705.5 L1424.5,2705.3 L1428.0,2705.1 L1431.5,2704.8 L1435.0,2704.6 L1438.5,2704.3 L1442.1,2704.0 L1445.6,2703.7 L1449.1,2703.4 L1452.6,2703.1 L1456.1,2702.8 L1459.6,2702.4 L1463.1,2702.1 L1466.6,2701.7 L1470.1,2701.4 L1473.6,2701.0 L1477.1,2700.6 L1480.6,2700.2 L1484.1,2699.8 L1487.6,2699.4 L1491.1,2699.0 L1494.6,2698.6 L1498.1,2698.1 L1501.6,2697.7 L1505.1,2697.2 L1508.6,2696.7 L1512.1,2696.2 L1515.6,2695.7 L1519.1,2695.2 L1522.7,2694.7 L1526.2,2694.2 L1529.7,2693.6 L1533.2,2693.1 L1536.7,2692.5 L1540.2,2691.9 L1543.7,2691.4 L1547.2,2690.8 L1550.7,2690.1 L1554.2,2689.5 L1557.7,2688.9 L1561.2,2688.2 L1564.7,2687.6 L1568.2,2686.9 L1571.7,2686.2 L1575.2,2685.5 L1578.7,2684.8 L1582.2,2684.1 L1585.7,2683.4 L1589.2,2682.6 L1592.7,2681.9 L1596.2,2681.1 L1599.7,2680.3 L1603.2,2679.5 L1606.8,2678.7 L1610.3,2677.8 L1613.8,2677.0 L1617.3,2676.1 L1620.8,2675.3 L1624.3,2674.4 L1627.8,2673.5 L1631.3,2672.6 L1634.8,2671.6 L1638.3,2670.7 L1641.8,2669.7 L1645.3,2668.8 L1648.8,2667.8 L1652.3,2666.8 L1655.8,2665.7 L1659.3,2664.7 L1662.8,2663.6 L1666.3,2662.6 L1669.8,2661.5 L1673.3,2660.4 L1676.8,2659.2 L1680.3,2658.1 L1683.8,2656.9 L1687.3,2655.8 L1690.8,2654.6 L1694.4,2653.3 L1697.9,2652.1 L1701.4,2650.9 L1704.9,2649.6 L1708.4,2648.3 L1711.9,2647.0 L1715.4,2645.6 L1718.9,2644.3 L1722.4,2642.9 L1725.9,2641.5 L1729.4,2640.1 L1732.9,2638.7 L1736.4,2637.2 L1739.9,2635.7 L1743.4,2634.2 L1746.9,2632.7 L1750.4,2631.2 L1753.9,2629.6 L1757.4,2628.0 L1760.9,2626.4 L1764.4,2624.7 L1767.9,2623.0 L1771.4,2621.3 L1775.0,2619.6 L1778.5,2617.9 L1782.0,2616.1 L1785.5,2614.3 L1789.0,2612.5 L1792.5,2610.6 L1796.0,2608.7 L1799.5,2606.8 L1803.0,2604.8 L1806.5,2602.9 L1810.0,2600.9 L1813.5,2598.8 L1817.0,2596.8 L1820.5,2594.7 L1824.0,2592.5 L1827.5,2590.4 L1831.0,2588.2 L1834.5,2585.9 L1838.0,2583.7 L1841.5,2581.3 L1845.0,2579.0 L1848.5,2576.6 L1852.0,2574.2 L1855.5,2571.8 L1859.0,2569.3 L1862.6,2566.7 L1866.1,2564.2 L1869.6,2561.6 L1873.1,2558.9 L1876.6,2556.2 L1880.1,2553.5 L1883.6,2550.7 L1887.1,2547.9 L1890.6,2545.0 L1894.1,2542.1 L1897.6,2539.1 L1901.1,2536.1 L1904.6,2533.0 L1908.1,2529.9 L1911.6,2526.7 L1915.1,2523.5 L1918.6,2520.3 L1922.1,2516.9 L1925.6,2513.6 L1929.1,2510.1 L1932.6,2506.6 L1936.1,2503.1 L1939.6,2499.5 L1943.2,2495.8 L1946.7,2492.0 L1950.2,2488.2 L1953.7,2484.4 L1957.2,2480.4 L1960.7,2476.4 L1964.2,2472.4 L1967.7,2468.2 L1971.2,2464.0 L1974.7,2459.7 L1978.2,2455.4 L1981.7,2450.9 L1985.2,2446.4 L1988.7,2441.8 L1992.2,2437.1 L1995.7,2432.4 L1999.2,2427.5 L2002.7,2422.6 L2006.2,2417.5 L2009.7,2412.4 L2013.2,2407.2 L2016.7,2401.9 L2020.2,2396.5 L2023.7,2390.9 L2027.2,2385.3 L2030.8,2379.6 L2034.3,2373.8 L2037.8,2367.8 L2041.3,2361.7 L2044.8,2355.6 L2048.3,2349.3 L2051.8,2342.8 L2055.3,2336.3 L2058.8,2329.6 L2062.3,2322.8 L2065.8,2315.9 L2069.3,2308.8 L2072.8,2301.6 L2076.3,2294.2 L2079.8,2286.7 L2083.3,2279.0 L2086.8,2271.1 L2090.3,2263.1 L2093.8,2255.0 L2097.3,2246.6 L2100.8,2238.1 L2104.3,2229.4 L2107.8,2220.5 L2111.3,2211.5 L2114.9,2202.2 L2118.4,2192.7 L2121.9,2183.0 L2125.4,2173.1 L2128.9,2163.0 L2132.4,2152.6 L2135.9,2142.1 L2139.4,2131.2 L2142.9,2120.2 L2146.4,2108.8 L2149.9,2097.3 L2153.4,2085.4 L2156.9,2073.2 L2160.4,2060.8 L2163.9,2048.1 L2167.4,2035.1 L2170.9,2021.7 L2174.4,2008.0 L2177.9,1994.0 L2181.4,1979.6 L2184.9,1964.9 L2188.4,1949.8 L2191.9,1934.3 L2195.4,1918.5 L2199.0,1902.2 L2202.5,1885.4 L2206.0,1868.3 L2209.5,1850.7 L2213.0,1832.6 L2216.5,1814.0 L2220.0,1795.0 L2223.5,1775.4 L2227.0,1755.2 L2230.5,1734.5 L2234.0,1713.2 L2237.5,1691.3" stroke="#0000ff"/>
</g>
</svg></body></html>
